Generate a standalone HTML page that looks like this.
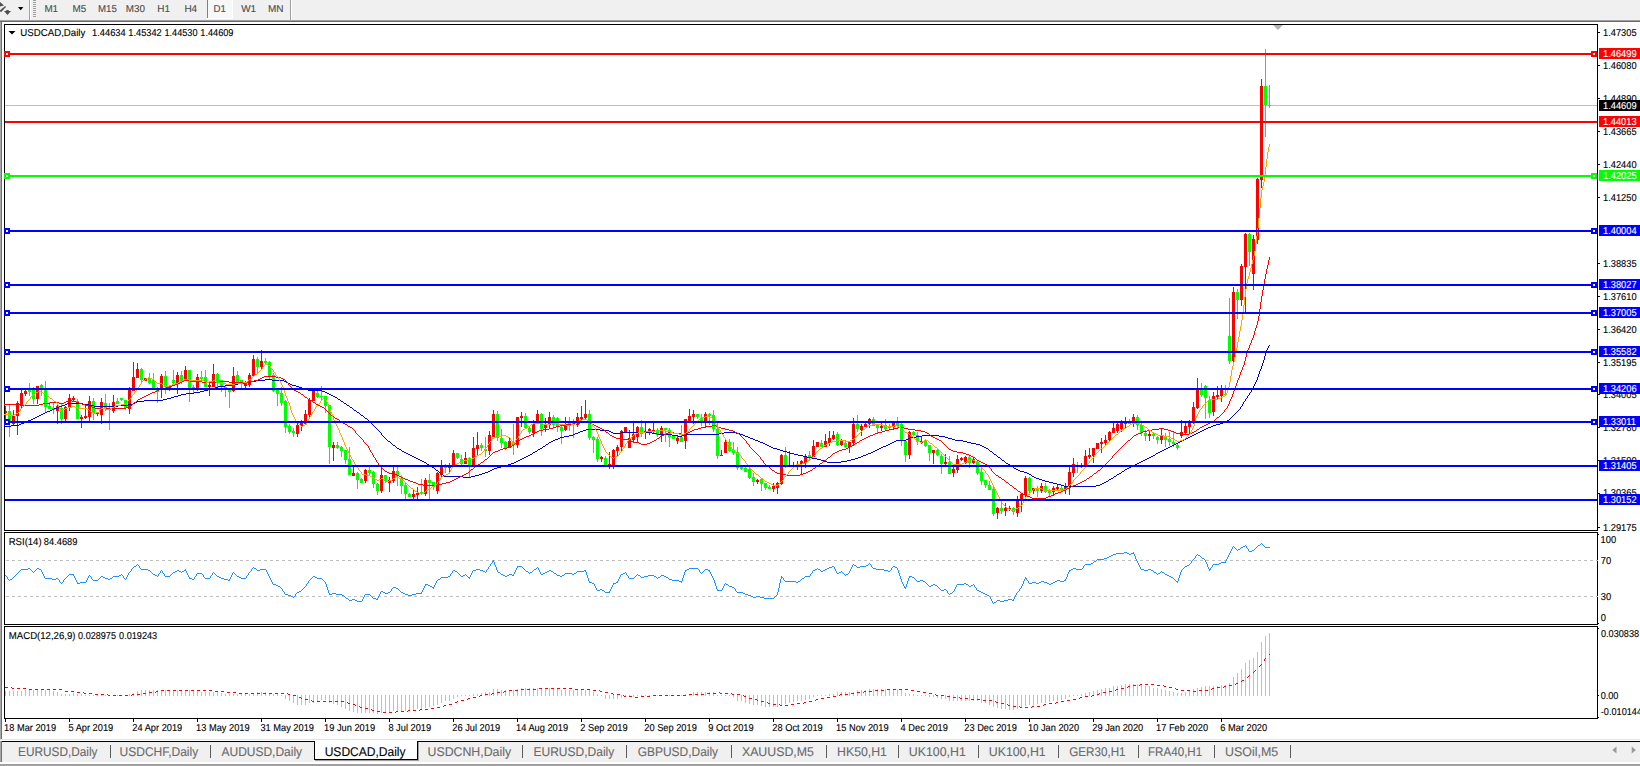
<!DOCTYPE html><html><head><meta charset="utf-8"><title>USDCAD,Daily</title>
<style>html,body{margin:0;padding:0;background:#fff;overflow:hidden}body{width:1640px;height:766px;position:relative;font-family:"Liberation Sans",sans-serif}svg{position:absolute;left:0;top:0;display:block}text{font-family:"Liberation Sans",sans-serif}</style></head><body>
<svg width="1640" height="766" viewBox="0 0 1640 766" text-rendering="geometricPrecision">
<rect x="0" y="0" width="1640" height="766" fill="#fff"/>
<g shape-rendering="crispEdges">
<rect x="0" y="0" width="1640" height="20" fill="#f0f0f0"/>
<rect x="0" y="20" width="1640" height="1" fill="#a0a0a0"/>
<rect x="0" y="21" width="1640" height="1" fill="#696969"/>
<rect x="0" y="22" width="1" height="718" fill="#a8a8a8"/><rect x="1" y="22" width="1" height="718" fill="#707070"/>
<rect x="29" y="0" width="1" height="20" fill="#a0a0a0"/><rect x="30" y="0" width="1" height="20" fill="#fff"/>
<rect x="33" y="0" width="3" height="1" fill="#a0a0a0"/>
<rect x="33" y="2" width="3" height="1" fill="#a0a0a0"/>
<rect x="33" y="4" width="3" height="1" fill="#a0a0a0"/>
<rect x="33" y="6" width="3" height="1" fill="#a0a0a0"/>
<rect x="33" y="8" width="3" height="1" fill="#a0a0a0"/>
<rect x="33" y="10" width="3" height="1" fill="#a0a0a0"/>
<rect x="33" y="12" width="3" height="1" fill="#a0a0a0"/>
<rect x="33" y="14" width="3" height="1" fill="#a0a0a0"/>
<rect x="33" y="16" width="3" height="1" fill="#a0a0a0"/>
<rect x="207" y="0" width="1" height="18" fill="#808080"/><rect x="208" y="0" width="24" height="18" fill="#f8f8f8"/><rect x="232" y="0" width="1" height="19" fill="#fff"/><rect x="207" y="18" width="26" height="1" fill="#fff"/>
<rect x="290" y="0" width="1" height="20" fill="#a0a0a0"/><rect x="291" y="0" width="1" height="20" fill="#fff"/>
</g>
<g fill="#505050"><path d="M0 2 L4 5.5 L0 6.5 Z"/><path d="M0 10.2 L5.2 6 L6 7 L1.2 12 L0 11.5Z"/><path d="M4 11 L11 11 L7.5 15 Z"/><rect x="6.3" y="10" width="2.4" height="2"/></g>
<path d="M18 7 L23.4 7 L20.7 10.2 Z" fill="#000"/>
<text transform="translate(44.39,12.0) scale(0.9855,1)" font-size="10" fill="#4c4c4c" stroke="#4c4c4c" stroke-width="0.12">M1</text>
<text transform="translate(72.49,12.0) scale(0.9880,1)" font-size="10" fill="#4c4c4c" stroke="#4c4c4c" stroke-width="0.12">M5</text>
<text transform="translate(98.01,12.0) scale(0.9663,1)" font-size="10" fill="#4c4c4c" stroke="#4c4c4c" stroke-width="0.12">M15</text>
<text transform="translate(125.79,12.0) scale(0.9867,1)" font-size="10" fill="#4c4c4c" stroke="#4c4c4c" stroke-width="0.12">M30</text>
<text transform="translate(157.34,12.0) scale(1.0000,1)" font-size="10" fill="#4c4c4c" stroke="#4c4c4c" stroke-width="0.12">H1</text>
<text transform="translate(184.39,12.0) scale(1.0000,1)" font-size="10" fill="#4c4c4c" stroke="#4c4c4c" stroke-width="0.12">H4</text>
<text transform="translate(213.61,12.0) scale(0.9674,1)" font-size="10" fill="#4c4c4c" stroke="#4c4c4c" stroke-width="0.12">D1</text>
<text transform="translate(241.16,12.0) scale(0.9953,1)" font-size="10" fill="#4c4c4c" stroke="#4c4c4c" stroke-width="0.12">W1</text>
<text transform="translate(268.02,12.0) scale(1.0000,1)" font-size="10" fill="#4c4c4c" stroke="#4c4c4c" stroke-width="0.12">MN</text>
<g shape-rendering="crispEdges" fill="#000">
<rect x="4" y="24" width="1594" height="1"/>
<rect x="4" y="24" width="1" height="695"/>
<rect x="1597" y="24" width="1" height="695"/>
<rect x="4" y="530" width="1594" height="1"/>
<rect x="4" y="531" width="1594" height="1" fill="#fff"/>
<rect x="4" y="532" width="1594" height="1"/>
<rect x="4" y="624" width="1594" height="1"/>
<rect x="4" y="625" width="1594" height="1" fill="#fff"/>
<rect x="4" y="626" width="1594" height="1"/>
<rect x="4" y="718" width="1594" height="1"/>
</g>
<g shape-rendering="crispEdges"><rect x="2" y="531" width="3" height="1" fill="#fff"/><rect x="2" y="625" width="3" height="1" fill="#fff"/></g>
<g shape-rendering="crispEdges" fill="#000">
<rect x="1598" y="32" width="2" height="1"/>
<rect x="1598" y="65" width="2" height="1"/>
<rect x="1598" y="98" width="2" height="1"/>
<rect x="1598" y="131" width="2" height="1"/>
<rect x="1598" y="164" width="2" height="1"/>
<rect x="1598" y="197" width="2" height="1"/>
<rect x="1598" y="263" width="2" height="1"/>
<rect x="1598" y="296" width="2" height="1"/>
<rect x="1598" y="329" width="2" height="1"/>
<rect x="1598" y="362" width="2" height="1"/>
<rect x="1598" y="394" width="2" height="1"/>
<rect x="1598" y="427" width="2" height="1"/>
<rect x="1598" y="460" width="2" height="1"/>
<rect x="1598" y="493" width="2" height="1"/>
<rect x="1598" y="527" width="2" height="1"/>
<rect x="1598" y="534" width="1" height="1"/>
<rect x="1598" y="623" width="1" height="1"/>
<rect x="1598" y="628" width="1" height="1"/>
<rect x="1598" y="695" width="1" height="1"/>
<rect x="1598" y="717" width="1" height="1"/>
</g>
<text transform="translate(1602.99,35.9) scale(0.9300,1)" font-size="10" fill="#000" stroke="#000" stroke-width="0.12">1.47305</text>
<text transform="translate(1602.99,68.9) scale(0.9300,1)" font-size="10" fill="#000" stroke="#000" stroke-width="0.12">1.46080</text>
<text transform="translate(1602.99,101.9) scale(0.9300,1)" font-size="10" fill="#000" stroke="#000" stroke-width="0.12">1.44890</text>
<text transform="translate(1602.99,134.7) scale(0.9300,1)" font-size="10" fill="#000" stroke="#000" stroke-width="0.12">1.43665</text>
<text transform="translate(1602.99,167.9) scale(0.9300,1)" font-size="10" fill="#000" stroke="#000" stroke-width="0.12">1.42440</text>
<text transform="translate(1602.99,200.9) scale(0.9300,1)" font-size="10" fill="#000" stroke="#000" stroke-width="0.12">1.41250</text>
<text transform="translate(1602.99,266.9) scale(0.9300,1)" font-size="10" fill="#000" stroke="#000" stroke-width="0.12">1.38835</text>
<text transform="translate(1602.99,299.7) scale(0.9300,1)" font-size="10" fill="#000" stroke="#000" stroke-width="0.12">1.37610</text>
<text transform="translate(1602.99,333.1) scale(0.9300,1)" font-size="10" fill="#000" stroke="#000" stroke-width="0.12">1.36420</text>
<text transform="translate(1602.99,366.1) scale(0.9300,1)" font-size="10" fill="#000" stroke="#000" stroke-width="0.12">1.35195</text>
<text transform="translate(1602.99,398.1) scale(0.9300,1)" font-size="10" fill="#000" stroke="#000" stroke-width="0.12">1.34005</text>
<text transform="translate(1602.99,430.9) scale(0.9300,1)" font-size="10" fill="#000" stroke="#000" stroke-width="0.12">1.32780</text>
<text transform="translate(1602.99,463.7) scale(0.9300,1)" font-size="10" fill="#000" stroke="#000" stroke-width="0.12">1.31590</text>
<text transform="translate(1602.99,496.4) scale(0.9300,1)" font-size="10" fill="#000" stroke="#000" stroke-width="0.12">1.30365</text>
<text transform="translate(1602.99,530.9) scale(0.9300,1)" font-size="10" fill="#000" stroke="#000" stroke-width="0.12">1.29175</text>
<rect x="5" y="105" width="1592" height="1" fill="#c0c0c0" shape-rendering="crispEdges"/>
<g shape-rendering="crispEdges">
<rect x="5" y="406" width="1" height="14" fill="#ff0000"/><rect x="6" y="411" width="1" height="2" fill="#ff0000"/>
<rect x="9" y="405" width="1" height="32" fill="#00ff00"/>
<rect x="8" y="411" width="3" height="11" fill="#00ff00"/>
<rect x="13" y="410" width="1" height="15" fill="#ff0000"/>
<rect x="12" y="416" width="3" height="8" fill="#ff0000"/>
<rect x="17" y="401" width="1" height="34" fill="#ff0000"/>
<rect x="16" y="403" width="3" height="13" fill="#ff0000"/>
<rect x="21" y="390" width="1" height="18" fill="#ff0000"/>
<rect x="20" y="393" width="3" height="13" fill="#ff0000"/>
<rect x="25" y="390" width="1" height="6" fill="#ff0000"/>
<rect x="24" y="391" width="3" height="3" fill="#ff0000"/>
<rect x="29" y="383" width="1" height="13" fill="#00ff00"/>
<rect x="28" y="390" width="3" height="2" fill="#00ff00"/>
<rect x="33" y="387" width="1" height="17" fill="#00ff00"/>
<rect x="32" y="390" width="3" height="9" fill="#00ff00"/>
<rect x="37" y="386" width="1" height="18" fill="#ff0000"/>
<rect x="36" y="386" width="3" height="13" fill="#ff0000"/>
<rect x="41" y="384" width="1" height="12" fill="#00ff00"/>
<rect x="40" y="385" width="3" height="3" fill="#00ff00"/>
<rect x="45" y="381" width="1" height="31" fill="#00ff00"/>
<rect x="44" y="390" width="3" height="17" fill="#00ff00"/>
<rect x="49" y="402" width="1" height="7" fill="#00ff00"/>
<rect x="48" y="406" width="3" height="3" fill="#00ff00"/>
<rect x="53" y="403" width="1" height="11" fill="#00ff00"/>
<rect x="52" y="408" width="3" height="2" fill="#00ff00"/>
<rect x="57" y="403" width="1" height="21" fill="#ff0000"/>
<rect x="56" y="406" width="3" height="5" fill="#ff0000"/>
<rect x="61" y="404" width="1" height="20" fill="#00ff00"/>
<rect x="60" y="408" width="3" height="11" fill="#00ff00"/>
<rect x="65" y="406" width="1" height="15" fill="#ff0000"/>
<rect x="64" y="407" width="3" height="12" fill="#ff0000"/>
<rect x="69" y="394" width="1" height="17" fill="#ff0000"/>
<rect x="68" y="398" width="3" height="10" fill="#ff0000"/>
<rect x="73" y="396" width="1" height="5" fill="#ff0000"/>
<rect x="72" y="398" width="3" height="2" fill="#ff0000"/>
<rect x="77" y="399" width="1" height="20" fill="#00ff00"/>
<rect x="76" y="401" width="3" height="18" fill="#00ff00"/>
<rect x="81" y="415" width="1" height="13" fill="#ff0000"/>
<rect x="80" y="417" width="3" height="2" fill="#ff0000"/>
<rect x="85" y="405" width="1" height="14" fill="#ff0000"/>
<rect x="84" y="416" width="3" height="2" fill="#ff0000"/>
<rect x="89" y="396" width="1" height="25" fill="#ff0000"/>
<rect x="88" y="401" width="3" height="16" fill="#ff0000"/>
<rect x="93" y="398" width="1" height="22" fill="#00ff00"/>
<rect x="92" y="401" width="3" height="12" fill="#00ff00"/>
<rect x="97" y="412" width="1" height="4" fill="#ff0000"/>
<rect x="96" y="413" width="3" height="1" fill="#ff0000"/>
<rect x="101" y="398" width="1" height="26" fill="#ff0000"/>
<rect x="100" y="402" width="3" height="13" fill="#ff0000"/>
<rect x="105" y="394" width="1" height="17" fill="#00ff00"/>
<rect x="104" y="403" width="3" height="5" fill="#00ff00"/>
<rect x="109" y="403" width="1" height="27" fill="#00ff00"/>
<rect x="108" y="408" width="3" height="2" fill="#00ff00"/>
<rect x="113" y="395" width="1" height="18" fill="#ff0000"/>
<rect x="112" y="402" width="3" height="9" fill="#ff0000"/>
<rect x="117" y="398" width="1" height="6" fill="#00ff00"/>
<rect x="116" y="401" width="3" height="3" fill="#00ff00"/>
<rect x="121" y="398" width="1" height="3" fill="#00ff00"/>
<rect x="120" y="398" width="3" height="2" fill="#00ff00"/>
<rect x="125" y="400" width="1" height="10" fill="#00ff00"/>
<rect x="124" y="400" width="3" height="8" fill="#00ff00"/>
<rect x="129" y="387" width="1" height="27" fill="#ff0000"/>
<rect x="128" y="390" width="3" height="19" fill="#ff0000"/>
<rect x="133" y="362" width="1" height="29" fill="#ff0000"/>
<rect x="132" y="377" width="3" height="14" fill="#ff0000"/>
<rect x="137" y="363" width="1" height="15" fill="#ff0000"/>
<rect x="136" y="369" width="3" height="9" fill="#ff0000"/>
<rect x="141" y="368" width="1" height="14" fill="#00ff00"/>
<rect x="140" y="369" width="3" height="11" fill="#00ff00"/>
<rect x="145" y="378" width="1" height="3" fill="#ff0000"/>
<rect x="144" y="378" width="3" height="3" fill="#ff0000"/>
<rect x="149" y="373" width="1" height="11" fill="#00ff00"/>
<rect x="148" y="378" width="3" height="5" fill="#00ff00"/>
<rect x="153" y="373" width="1" height="15" fill="#00ff00"/>
<rect x="152" y="380" width="3" height="8" fill="#00ff00"/>
<rect x="157" y="387" width="1" height="16" fill="#00ff00"/>
<rect x="156" y="389" width="3" height="3" fill="#00ff00"/>
<rect x="161" y="374" width="1" height="24" fill="#ff0000"/>
<rect x="160" y="376" width="3" height="14" fill="#ff0000"/>
<rect x="165" y="371" width="1" height="23" fill="#00ff00"/>
<rect x="164" y="376" width="3" height="11" fill="#00ff00"/>
<rect x="169" y="387" width="1" height="4" fill="#ff0000"/>
<rect x="168" y="387" width="3" height="3" fill="#ff0000"/>
<rect x="173" y="370" width="1" height="14" fill="#00ff00"/>
<rect x="172" y="380" width="3" height="3" fill="#00ff00"/>
<rect x="177" y="372" width="1" height="22" fill="#ff0000"/>
<rect x="176" y="375" width="3" height="9" fill="#ff0000"/>
<rect x="181" y="371" width="1" height="13" fill="#00ff00"/>
<rect x="180" y="375" width="3" height="6" fill="#00ff00"/>
<rect x="185" y="366" width="1" height="14" fill="#ff0000"/>
<rect x="184" y="370" width="3" height="10" fill="#ff0000"/>
<rect x="189" y="370" width="1" height="32" fill="#00ff00"/>
<rect x="188" y="370" width="3" height="18" fill="#00ff00"/>
<rect x="193" y="385" width="1" height="8" fill="#00ff00"/>
<rect x="192" y="387" width="3" height="1" fill="#00ff00"/>
<rect x="197" y="374" width="1" height="17" fill="#ff0000"/>
<rect x="196" y="377" width="3" height="11" fill="#ff0000"/>
<rect x="201" y="371" width="1" height="9" fill="#00ff00"/>
<rect x="200" y="377" width="3" height="2" fill="#00ff00"/>
<rect x="205" y="370" width="1" height="17" fill="#00ff00"/>
<rect x="204" y="377" width="3" height="10" fill="#00ff00"/>
<rect x="209" y="381" width="1" height="15" fill="#ff0000"/>
<rect x="208" y="385" width="3" height="2" fill="#ff0000"/>
<rect x="213" y="364" width="1" height="23" fill="#ff0000"/>
<rect x="212" y="374" width="3" height="13" fill="#ff0000"/>
<rect x="217" y="373" width="1" height="14" fill="#00ff00"/>
<rect x="216" y="374" width="3" height="9" fill="#00ff00"/>
<rect x="221" y="380" width="1" height="12" fill="#00ff00"/>
<rect x="220" y="380" width="3" height="7" fill="#00ff00"/>
<rect x="225" y="386" width="1" height="11" fill="#00ff00"/>
<rect x="224" y="387" width="3" height="1" fill="#00ff00"/>
<rect x="229" y="390" width="1" height="18" fill="#00ff00"/>
<rect x="228" y="390" width="3" height="2" fill="#00ff00"/>
<rect x="233" y="367" width="1" height="25" fill="#ff0000"/>
<rect x="232" y="376" width="3" height="15" fill="#ff0000"/>
<rect x="237" y="371" width="1" height="11" fill="#00ff00"/>
<rect x="236" y="375" width="3" height="7" fill="#00ff00"/>
<rect x="241" y="380" width="1" height="8" fill="#00ff00"/>
<rect x="240" y="380" width="3" height="3" fill="#00ff00"/>
<rect x="245" y="381" width="1" height="7" fill="#ff0000"/>
<rect x="244" y="383" width="3" height="3" fill="#ff0000"/>
<rect x="249" y="373" width="1" height="14" fill="#ff0000"/>
<rect x="248" y="375" width="3" height="10" fill="#ff0000"/>
<rect x="253" y="355" width="1" height="21" fill="#ff0000"/>
<rect x="252" y="359" width="3" height="17" fill="#ff0000"/>
<rect x="257" y="357" width="1" height="16" fill="#00ff00"/>
<rect x="256" y="359" width="3" height="8" fill="#00ff00"/>
<rect x="261" y="350" width="1" height="19" fill="#ff0000"/>
<rect x="260" y="361" width="3" height="6" fill="#ff0000"/>
<rect x="265" y="358" width="1" height="6" fill="#00ff00"/>
<rect x="264" y="361" width="3" height="2" fill="#00ff00"/>
<rect x="269" y="361" width="1" height="18" fill="#00ff00"/>
<rect x="268" y="362" width="3" height="14" fill="#00ff00"/>
<rect x="273" y="373" width="1" height="19" fill="#00ff00"/>
<rect x="272" y="375" width="3" height="16" fill="#00ff00"/>
<rect x="277" y="388" width="1" height="18" fill="#00ff00"/>
<rect x="276" y="390" width="3" height="4" fill="#00ff00"/>
<rect x="281" y="387" width="1" height="19" fill="#00ff00"/>
<rect x="280" y="393" width="3" height="10" fill="#00ff00"/>
<rect x="285" y="400" width="1" height="33" fill="#00ff00"/>
<rect x="284" y="401" width="3" height="26" fill="#00ff00"/>
<rect x="289" y="424" width="1" height="10" fill="#00ff00"/>
<rect x="288" y="426" width="3" height="6" fill="#00ff00"/>
<rect x="293" y="428" width="1" height="9" fill="#00ff00"/>
<rect x="292" y="431" width="3" height="2" fill="#00ff00"/>
<rect x="297" y="423" width="1" height="14" fill="#ff0000"/>
<rect x="296" y="425" width="3" height="9" fill="#ff0000"/>
<rect x="301" y="420" width="1" height="11" fill="#ff0000"/>
<rect x="300" y="423" width="3" height="3" fill="#ff0000"/>
<rect x="305" y="410" width="1" height="15" fill="#ff0000"/>
<rect x="304" y="414" width="3" height="10" fill="#ff0000"/>
<rect x="309" y="398" width="1" height="20" fill="#ff0000"/>
<rect x="308" y="400" width="3" height="15" fill="#ff0000"/>
<rect x="313" y="389" width="1" height="12" fill="#ff0000"/>
<rect x="312" y="390" width="3" height="11" fill="#ff0000"/>
<rect x="317" y="391" width="1" height="7" fill="#00ff00"/>
<rect x="316" y="393" width="3" height="4" fill="#00ff00"/>
<rect x="321" y="386" width="1" height="14" fill="#00ff00"/>
<rect x="320" y="396" width="3" height="1" fill="#00ff00"/>
<rect x="325" y="396" width="1" height="17" fill="#00ff00"/>
<rect x="324" y="396" width="3" height="10" fill="#00ff00"/>
<rect x="329" y="405" width="1" height="59" fill="#00ff00"/>
<rect x="328" y="405" width="3" height="42" fill="#00ff00"/>
<rect x="333" y="442" width="1" height="19" fill="#ff0000"/>
<rect x="332" y="445" width="3" height="3" fill="#ff0000"/>
<rect x="337" y="442" width="1" height="7" fill="#00ff00"/>
<rect x="336" y="445" width="3" height="3" fill="#00ff00"/>
<rect x="341" y="446" width="1" height="11" fill="#00ff00"/>
<rect x="340" y="447" width="3" height="4" fill="#00ff00"/>
<rect x="345" y="450" width="1" height="14" fill="#00ff00"/>
<rect x="344" y="450" width="3" height="10" fill="#00ff00"/>
<rect x="349" y="447" width="1" height="28" fill="#00ff00"/>
<rect x="348" y="459" width="3" height="16" fill="#00ff00"/>
<rect x="353" y="467" width="1" height="9" fill="#ff0000"/>
<rect x="352" y="473" width="3" height="3" fill="#ff0000"/>
<rect x="357" y="472" width="1" height="17" fill="#00ff00"/>
<rect x="356" y="473" width="3" height="7" fill="#00ff00"/>
<rect x="361" y="478" width="1" height="5" fill="#00ff00"/>
<rect x="360" y="479" width="3" height="4" fill="#00ff00"/>
<rect x="365" y="469" width="1" height="14" fill="#ff0000"/>
<rect x="364" y="470" width="3" height="11" fill="#ff0000"/>
<rect x="369" y="467" width="1" height="8" fill="#00ff00"/>
<rect x="368" y="470" width="3" height="3" fill="#00ff00"/>
<rect x="373" y="471" width="1" height="17" fill="#00ff00"/>
<rect x="372" y="472" width="3" height="12" fill="#00ff00"/>
<rect x="377" y="483" width="1" height="12" fill="#00ff00"/>
<rect x="376" y="484" width="3" height="7" fill="#00ff00"/>
<rect x="381" y="467" width="1" height="26" fill="#ff0000"/>
<rect x="380" y="475" width="3" height="16" fill="#ff0000"/>
<rect x="385" y="475" width="1" height="8" fill="#00ff00"/>
<rect x="384" y="475" width="3" height="6" fill="#00ff00"/>
<rect x="389" y="477" width="1" height="15" fill="#ff0000"/>
<rect x="388" y="480" width="3" height="3" fill="#ff0000"/>
<rect x="393" y="467" width="1" height="16" fill="#ff0000"/>
<rect x="392" y="471" width="3" height="10" fill="#ff0000"/>
<rect x="397" y="467" width="1" height="19" fill="#00ff00"/>
<rect x="396" y="471" width="3" height="5" fill="#00ff00"/>
<rect x="401" y="475" width="1" height="19" fill="#00ff00"/>
<rect x="400" y="478" width="3" height="8" fill="#00ff00"/>
<rect x="405" y="482" width="1" height="17" fill="#00ff00"/>
<rect x="404" y="485" width="3" height="9" fill="#00ff00"/>
<rect x="409" y="493" width="1" height="4" fill="#00ff00"/>
<rect x="408" y="494" width="3" height="3" fill="#00ff00"/>
<rect x="413" y="490" width="1" height="9" fill="#ff0000"/>
<rect x="412" y="494" width="3" height="3" fill="#ff0000"/>
<rect x="417" y="487" width="1" height="12" fill="#ff0000"/>
<rect x="416" y="493" width="3" height="2" fill="#ff0000"/>
<rect x="421" y="479" width="1" height="15" fill="#00ff00"/>
<rect x="420" y="492" width="3" height="2" fill="#00ff00"/>
<rect x="425" y="478" width="1" height="18" fill="#ff0000"/>
<rect x="424" y="480" width="3" height="14" fill="#ff0000"/>
<rect x="429" y="474" width="1" height="25" fill="#00ff00"/>
<rect x="428" y="480" width="3" height="3" fill="#00ff00"/>
<rect x="433" y="482" width="1" height="8" fill="#00ff00"/>
<rect x="432" y="482" width="3" height="5" fill="#00ff00"/>
<rect x="437" y="472" width="1" height="22" fill="#ff0000"/>
<rect x="436" y="473" width="3" height="18" fill="#ff0000"/>
<rect x="441" y="460" width="1" height="17" fill="#ff0000"/>
<rect x="440" y="466" width="3" height="9" fill="#ff0000"/>
<rect x="445" y="464" width="1" height="9" fill="#00ff00"/>
<rect x="444" y="466" width="3" height="2" fill="#00ff00"/>
<rect x="449" y="463" width="1" height="10" fill="#ff0000"/>
<rect x="448" y="466" width="3" height="2" fill="#ff0000"/>
<rect x="453" y="450" width="1" height="15" fill="#ff0000"/>
<rect x="452" y="453" width="3" height="12" fill="#ff0000"/>
<rect x="457" y="453" width="1" height="6" fill="#00ff00"/>
<rect x="456" y="453" width="3" height="5" fill="#00ff00"/>
<rect x="461" y="455" width="1" height="10" fill="#00ff00"/>
<rect x="460" y="459" width="3" height="5" fill="#00ff00"/>
<rect x="465" y="452" width="1" height="12" fill="#ff0000"/>
<rect x="464" y="458" width="3" height="6" fill="#ff0000"/>
<rect x="469" y="457" width="1" height="20" fill="#00ff00"/>
<rect x="468" y="458" width="3" height="7" fill="#00ff00"/>
<rect x="473" y="437" width="1" height="30" fill="#ff0000"/>
<rect x="472" y="448" width="3" height="17" fill="#ff0000"/>
<rect x="477" y="432" width="1" height="24" fill="#ff0000"/>
<rect x="476" y="445" width="3" height="4" fill="#ff0000"/>
<rect x="481" y="443" width="1" height="8" fill="#00ff00"/>
<rect x="480" y="445" width="3" height="3" fill="#00ff00"/>
<rect x="485" y="437" width="1" height="20" fill="#00ff00"/>
<rect x="484" y="449" width="3" height="2" fill="#00ff00"/>
<rect x="489" y="431" width="1" height="24" fill="#ff0000"/>
<rect x="488" y="435" width="3" height="16" fill="#ff0000"/>
<rect x="493" y="410" width="1" height="27" fill="#ff0000"/>
<rect x="492" y="414" width="3" height="23" fill="#ff0000"/>
<rect x="497" y="411" width="1" height="30" fill="#00ff00"/>
<rect x="496" y="414" width="3" height="24" fill="#00ff00"/>
<rect x="501" y="429" width="1" height="19" fill="#00ff00"/>
<rect x="500" y="438" width="3" height="5" fill="#00ff00"/>
<rect x="505" y="441" width="1" height="9" fill="#00ff00"/>
<rect x="504" y="442" width="3" height="6" fill="#00ff00"/>
<rect x="509" y="438" width="1" height="10" fill="#ff0000"/>
<rect x="508" y="441" width="3" height="7" fill="#ff0000"/>
<rect x="513" y="424" width="1" height="31" fill="#00ff00"/>
<rect x="512" y="443" width="3" height="2" fill="#00ff00"/>
<rect x="517" y="417" width="1" height="31" fill="#ff0000"/>
<rect x="516" y="417" width="3" height="28" fill="#ff0000"/>
<rect x="521" y="412" width="1" height="15" fill="#ff0000"/>
<rect x="520" y="416" width="3" height="2" fill="#ff0000"/>
<rect x="525" y="413" width="1" height="15" fill="#00ff00"/>
<rect x="524" y="416" width="3" height="12" fill="#00ff00"/>
<rect x="529" y="427" width="1" height="7" fill="#00ff00"/>
<rect x="528" y="428" width="3" height="4" fill="#00ff00"/>
<rect x="533" y="420" width="1" height="17" fill="#ff0000"/>
<rect x="532" y="424" width="3" height="9" fill="#ff0000"/>
<rect x="537" y="410" width="1" height="12" fill="#ff0000"/>
<rect x="536" y="414" width="3" height="8" fill="#ff0000"/>
<rect x="541" y="413" width="1" height="23" fill="#00ff00"/>
<rect x="540" y="414" width="3" height="15" fill="#00ff00"/>
<rect x="545" y="418" width="1" height="14" fill="#ff0000"/>
<rect x="544" y="425" width="3" height="3" fill="#ff0000"/>
<rect x="549" y="412" width="1" height="17" fill="#ff0000"/>
<rect x="548" y="417" width="3" height="8" fill="#ff0000"/>
<rect x="553" y="415" width="1" height="12" fill="#00ff00"/>
<rect x="552" y="417" width="3" height="8" fill="#00ff00"/>
<rect x="557" y="417" width="1" height="15" fill="#00ff00"/>
<rect x="556" y="418" width="3" height="9" fill="#00ff00"/>
<rect x="561" y="426" width="1" height="18" fill="#00ff00"/>
<rect x="560" y="427" width="3" height="4" fill="#00ff00"/>
<rect x="565" y="417" width="1" height="14" fill="#ff0000"/>
<rect x="564" y="424" width="3" height="6" fill="#ff0000"/>
<rect x="569" y="417" width="1" height="14" fill="#00ff00"/>
<rect x="568" y="423" width="3" height="2" fill="#00ff00"/>
<rect x="573" y="419" width="1" height="19" fill="#00ff00"/>
<rect x="572" y="423" width="3" height="2" fill="#00ff00"/>
<rect x="577" y="413" width="1" height="14" fill="#ff0000"/>
<rect x="576" y="417" width="3" height="8" fill="#ff0000"/>
<rect x="581" y="406" width="1" height="14" fill="#ff0000"/>
<rect x="580" y="417" width="3" height="2" fill="#ff0000"/>
<rect x="585" y="400" width="1" height="19" fill="#ff0000"/>
<rect x="584" y="414" width="3" height="4" fill="#ff0000"/>
<rect x="589" y="410" width="1" height="30" fill="#00ff00"/>
<rect x="588" y="414" width="3" height="24" fill="#00ff00"/>
<rect x="593" y="436" width="1" height="17" fill="#00ff00"/>
<rect x="592" y="437" width="3" height="3" fill="#00ff00"/>
<rect x="597" y="437" width="1" height="25" fill="#00ff00"/>
<rect x="596" y="439" width="3" height="20" fill="#00ff00"/>
<rect x="601" y="456" width="1" height="6" fill="#ff0000"/>
<rect x="600" y="457" width="3" height="2" fill="#ff0000"/>
<rect x="605" y="456" width="1" height="9" fill="#00ff00"/>
<rect x="604" y="458" width="3" height="7" fill="#00ff00"/>
<rect x="609" y="452" width="1" height="17" fill="#ff0000"/>
<rect x="608" y="464" width="3" height="1" fill="#ff0000"/>
<rect x="613" y="449" width="1" height="20" fill="#ff0000"/>
<rect x="612" y="450" width="3" height="15" fill="#ff0000"/>
<rect x="617" y="445" width="1" height="11" fill="#ff0000"/>
<rect x="616" y="447" width="3" height="4" fill="#ff0000"/>
<rect x="621" y="430" width="1" height="21" fill="#ff0000"/>
<rect x="620" y="431" width="3" height="16" fill="#ff0000"/>
<rect x="625" y="427" width="1" height="6" fill="#ff0000"/>
<rect x="624" y="427" width="3" height="5" fill="#ff0000"/>
<rect x="629" y="430" width="1" height="18" fill="#ff0000"/>
<rect x="628" y="438" width="3" height="10" fill="#ff0000"/>
<rect x="633" y="423" width="1" height="19" fill="#ff0000"/>
<rect x="632" y="434" width="3" height="6" fill="#ff0000"/>
<rect x="637" y="426" width="1" height="16" fill="#ff0000"/>
<rect x="636" y="427" width="3" height="10" fill="#ff0000"/>
<rect x="641" y="420" width="1" height="17" fill="#00ff00"/>
<rect x="640" y="427" width="3" height="7" fill="#00ff00"/>
<rect x="645" y="423" width="1" height="16" fill="#ff0000"/>
<rect x="644" y="431" width="3" height="2" fill="#ff0000"/>
<rect x="649" y="428" width="1" height="7" fill="#ff0000"/>
<rect x="648" y="429" width="3" height="3" fill="#ff0000"/>
<rect x="653" y="423" width="1" height="10" fill="#ff0000"/>
<rect x="652" y="430" width="3" height="2" fill="#ff0000"/>
<rect x="657" y="428" width="1" height="9" fill="#00ff00"/>
<rect x="656" y="430" width="3" height="5" fill="#00ff00"/>
<rect x="661" y="426" width="1" height="16" fill="#ff0000"/>
<rect x="660" y="428" width="3" height="7" fill="#ff0000"/>
<rect x="665" y="428" width="1" height="14" fill="#00ff00"/>
<rect x="664" y="428" width="3" height="2" fill="#00ff00"/>
<rect x="669" y="428" width="1" height="19" fill="#00ff00"/>
<rect x="668" y="430" width="3" height="7" fill="#00ff00"/>
<rect x="673" y="435" width="1" height="4" fill="#00ff00"/>
<rect x="672" y="436" width="3" height="3" fill="#00ff00"/>
<rect x="677" y="436" width="1" height="8" fill="#ff0000"/>
<rect x="676" y="438" width="3" height="3" fill="#ff0000"/>
<rect x="681" y="425" width="1" height="17" fill="#00ff00"/>
<rect x="680" y="437" width="3" height="5" fill="#00ff00"/>
<rect x="685" y="419" width="1" height="30" fill="#ff0000"/>
<rect x="684" y="419" width="3" height="22" fill="#ff0000"/>
<rect x="689" y="409" width="1" height="12" fill="#ff0000"/>
<rect x="688" y="416" width="3" height="5" fill="#ff0000"/>
<rect x="693" y="410" width="1" height="14" fill="#ff0000"/>
<rect x="692" y="414" width="3" height="3" fill="#ff0000"/>
<rect x="697" y="414" width="1" height="5" fill="#00ff00"/>
<rect x="696" y="414" width="3" height="3" fill="#00ff00"/>
<rect x="701" y="414" width="1" height="12" fill="#00ff00"/>
<rect x="700" y="418" width="3" height="3" fill="#00ff00"/>
<rect x="705" y="412" width="1" height="16" fill="#ff0000"/>
<rect x="704" y="414" width="3" height="7" fill="#ff0000"/>
<rect x="709" y="413" width="1" height="12" fill="#00ff00"/>
<rect x="708" y="414" width="3" height="2" fill="#00ff00"/>
<rect x="713" y="410" width="1" height="22" fill="#00ff00"/>
<rect x="712" y="415" width="3" height="14" fill="#00ff00"/>
<rect x="717" y="423" width="1" height="36" fill="#00ff00"/>
<rect x="716" y="429" width="3" height="27" fill="#00ff00"/>
<rect x="721" y="450" width="1" height="6" fill="#ff0000"/>
<rect x="720" y="455" width="3" height="1" fill="#ff0000"/>
<rect x="725" y="440" width="1" height="13" fill="#ff0000"/>
<rect x="724" y="442" width="3" height="11" fill="#ff0000"/>
<rect x="729" y="439" width="1" height="13" fill="#00ff00"/>
<rect x="728" y="442" width="3" height="9" fill="#00ff00"/>
<rect x="733" y="442" width="1" height="13" fill="#00ff00"/>
<rect x="732" y="450" width="3" height="3" fill="#00ff00"/>
<rect x="737" y="447" width="1" height="23" fill="#00ff00"/>
<rect x="736" y="452" width="3" height="16" fill="#00ff00"/>
<rect x="741" y="467" width="1" height="3" fill="#00ff00"/>
<rect x="740" y="467" width="3" height="2" fill="#00ff00"/>
<rect x="745" y="467" width="1" height="5" fill="#00ff00"/>
<rect x="744" y="468" width="3" height="4" fill="#00ff00"/>
<rect x="749" y="468" width="1" height="11" fill="#00ff00"/>
<rect x="748" y="469" width="3" height="9" fill="#00ff00"/>
<rect x="753" y="473" width="1" height="13" fill="#00ff00"/>
<rect x="752" y="477" width="3" height="5" fill="#00ff00"/>
<rect x="757" y="479" width="1" height="5" fill="#ff0000"/>
<rect x="756" y="480" width="3" height="2" fill="#ff0000"/>
<rect x="761" y="478" width="1" height="13" fill="#00ff00"/>
<rect x="760" y="479" width="3" height="5" fill="#00ff00"/>
<rect x="765" y="483" width="1" height="7" fill="#00ff00"/>
<rect x="764" y="483" width="3" height="5" fill="#00ff00"/>
<rect x="769" y="485" width="1" height="4" fill="#00ff00"/>
<rect x="768" y="487" width="3" height="2" fill="#00ff00"/>
<rect x="773" y="483" width="1" height="9" fill="#ff0000"/>
<rect x="772" y="486" width="3" height="3" fill="#ff0000"/>
<rect x="777" y="482" width="1" height="12" fill="#ff0000"/>
<rect x="776" y="483" width="3" height="5" fill="#ff0000"/>
<rect x="781" y="454" width="1" height="31" fill="#ff0000"/>
<rect x="780" y="455" width="3" height="29" fill="#ff0000"/>
<rect x="785" y="447" width="1" height="21" fill="#00ff00"/>
<rect x="784" y="455" width="3" height="10" fill="#00ff00"/>
<rect x="789" y="451" width="1" height="15" fill="#ff0000"/>
<rect x="788" y="465" width="3" height="1" fill="#ff0000"/>
<rect x="793" y="462" width="1" height="5" fill="#ff0000"/>
<rect x="792" y="465" width="3" height="1" fill="#ff0000"/>
<rect x="797" y="461" width="1" height="9" fill="#ff0000"/>
<rect x="796" y="465" width="3" height="1" fill="#ff0000"/>
<rect x="801" y="460" width="1" height="15" fill="#ff0000"/>
<rect x="800" y="461" width="3" height="3" fill="#ff0000"/>
<rect x="805" y="454" width="1" height="14" fill="#ff0000"/>
<rect x="804" y="457" width="3" height="6" fill="#ff0000"/>
<rect x="809" y="451" width="1" height="10" fill="#00ff00"/>
<rect x="808" y="455" width="3" height="3" fill="#00ff00"/>
<rect x="813" y="440" width="1" height="17" fill="#ff0000"/>
<rect x="812" y="446" width="3" height="11" fill="#ff0000"/>
<rect x="817" y="442" width="1" height="5" fill="#ff0000"/>
<rect x="816" y="442" width="3" height="5" fill="#ff0000"/>
<rect x="821" y="440" width="1" height="7" fill="#00ff00"/>
<rect x="820" y="443" width="3" height="4" fill="#00ff00"/>
<rect x="825" y="434" width="1" height="13" fill="#ff0000"/>
<rect x="824" y="441" width="3" height="6" fill="#ff0000"/>
<rect x="829" y="431" width="1" height="15" fill="#ff0000"/>
<rect x="828" y="438" width="3" height="5" fill="#ff0000"/>
<rect x="833" y="431" width="1" height="9" fill="#ff0000"/>
<rect x="832" y="435" width="3" height="4" fill="#ff0000"/>
<rect x="837" y="432" width="1" height="14" fill="#00ff00"/>
<rect x="836" y="434" width="3" height="11" fill="#00ff00"/>
<rect x="841" y="439" width="1" height="7" fill="#ff0000"/>
<rect x="840" y="441" width="3" height="4" fill="#ff0000"/>
<rect x="845" y="440" width="1" height="8" fill="#00ff00"/>
<rect x="844" y="443" width="3" height="4" fill="#00ff00"/>
<rect x="849" y="441" width="1" height="12" fill="#ff0000"/>
<rect x="848" y="442" width="3" height="5" fill="#ff0000"/>
<rect x="853" y="418" width="1" height="27" fill="#ff0000"/>
<rect x="852" y="424" width="3" height="19" fill="#ff0000"/>
<rect x="857" y="415" width="1" height="17" fill="#00ff00"/>
<rect x="856" y="424" width="3" height="5" fill="#00ff00"/>
<rect x="861" y="424" width="1" height="12" fill="#ff0000"/>
<rect x="860" y="426" width="3" height="4" fill="#ff0000"/>
<rect x="865" y="423" width="1" height="4" fill="#ff0000"/>
<rect x="864" y="424" width="3" height="3" fill="#ff0000"/>
<rect x="869" y="418" width="1" height="10" fill="#ff0000"/>
<rect x="868" y="419" width="3" height="5" fill="#ff0000"/>
<rect x="873" y="417" width="1" height="9" fill="#00ff00"/>
<rect x="872" y="419" width="3" height="7" fill="#00ff00"/>
<rect x="877" y="425" width="1" height="8" fill="#00ff00"/>
<rect x="876" y="425" width="3" height="3" fill="#00ff00"/>
<rect x="881" y="423" width="1" height="8" fill="#ff0000"/>
<rect x="880" y="426" width="3" height="2" fill="#ff0000"/>
<rect x="885" y="419" width="1" height="11" fill="#00ff00"/>
<rect x="884" y="425" width="3" height="4" fill="#00ff00"/>
<rect x="889" y="424" width="1" height="5" fill="#00ff00"/>
<rect x="888" y="427" width="3" height="1" fill="#00ff00"/>
<rect x="893" y="422" width="1" height="8" fill="#ff0000"/>
<rect x="892" y="423" width="3" height="4" fill="#ff0000"/>
<rect x="897" y="417" width="1" height="11" fill="#00ff00"/>
<rect x="896" y="422" width="3" height="4" fill="#00ff00"/>
<rect x="901" y="422" width="1" height="24" fill="#00ff00"/>
<rect x="900" y="424" width="3" height="17" fill="#00ff00"/>
<rect x="905" y="440" width="1" height="22" fill="#00ff00"/>
<rect x="904" y="441" width="3" height="14" fill="#00ff00"/>
<rect x="909" y="431" width="1" height="28" fill="#ff0000"/>
<rect x="908" y="432" width="3" height="23" fill="#ff0000"/>
<rect x="913" y="431" width="1" height="5" fill="#00ff00"/>
<rect x="912" y="432" width="3" height="3" fill="#00ff00"/>
<rect x="917" y="432" width="1" height="13" fill="#00ff00"/>
<rect x="916" y="435" width="3" height="7" fill="#00ff00"/>
<rect x="921" y="437" width="1" height="7" fill="#ff0000"/>
<rect x="920" y="441" width="3" height="2" fill="#ff0000"/>
<rect x="925" y="439" width="1" height="8" fill="#00ff00"/>
<rect x="924" y="440" width="3" height="6" fill="#00ff00"/>
<rect x="929" y="445" width="1" height="16" fill="#00ff00"/>
<rect x="928" y="445" width="3" height="8" fill="#00ff00"/>
<rect x="933" y="450" width="1" height="14" fill="#ff0000"/>
<rect x="932" y="450" width="3" height="3" fill="#ff0000"/>
<rect x="937" y="448" width="1" height="8" fill="#00ff00"/>
<rect x="936" y="450" width="3" height="5" fill="#00ff00"/>
<rect x="941" y="454" width="1" height="20" fill="#00ff00"/>
<rect x="940" y="456" width="3" height="8" fill="#00ff00"/>
<rect x="945" y="454" width="1" height="11" fill="#ff0000"/>
<rect x="944" y="462" width="3" height="2" fill="#ff0000"/>
<rect x="949" y="456" width="1" height="18" fill="#00ff00"/>
<rect x="948" y="462" width="3" height="12" fill="#00ff00"/>
<rect x="953" y="467" width="1" height="10" fill="#ff0000"/>
<rect x="952" y="469" width="3" height="4" fill="#ff0000"/>
<rect x="957" y="455" width="1" height="18" fill="#ff0000"/>
<rect x="956" y="459" width="3" height="11" fill="#ff0000"/>
<rect x="961" y="457" width="1" height="4" fill="#ff0000"/>
<rect x="960" y="458" width="3" height="2" fill="#ff0000"/>
<rect x="965" y="456" width="1" height="8" fill="#ff0000"/>
<rect x="964" y="457" width="3" height="6" fill="#ff0000"/>
<rect x="969" y="456" width="1" height="12" fill="#00ff00"/>
<rect x="968" y="457" width="3" height="6" fill="#00ff00"/>
<rect x="973" y="458" width="1" height="6" fill="#ff0000"/>
<rect x="972" y="459" width="3" height="4" fill="#ff0000"/>
<rect x="977" y="460" width="1" height="15" fill="#00ff00"/>
<rect x="976" y="462" width="3" height="11" fill="#00ff00"/>
<rect x="981" y="468" width="1" height="17" fill="#00ff00"/>
<rect x="980" y="472" width="3" height="9" fill="#00ff00"/>
<rect x="985" y="480" width="1" height="8" fill="#00ff00"/>
<rect x="984" y="480" width="3" height="5" fill="#00ff00"/>
<rect x="989" y="481" width="1" height="9" fill="#00ff00"/>
<rect x="988" y="485" width="3" height="5" fill="#00ff00"/>
<rect x="993" y="486" width="1" height="30" fill="#00ff00"/>
<rect x="992" y="489" width="3" height="25" fill="#00ff00"/>
<rect x="997" y="507" width="1" height="12" fill="#ff0000"/>
<rect x="996" y="508" width="3" height="5" fill="#ff0000"/>
<rect x="1001" y="502" width="1" height="12" fill="#00ff00"/>
<rect x="1000" y="508" width="3" height="3" fill="#00ff00"/>
<rect x="1005" y="503" width="1" height="13" fill="#ff0000"/>
<rect x="1004" y="508" width="3" height="3" fill="#ff0000"/>
<rect x="1009" y="506" width="1" height="5" fill="#ff0000"/>
<rect x="1008" y="508" width="3" height="1" fill="#ff0000"/>
<rect x="1013" y="507" width="1" height="8" fill="#00ff00"/>
<rect x="1012" y="508" width="3" height="4" fill="#00ff00"/>
<rect x="1017" y="496" width="1" height="21" fill="#ff0000"/>
<rect x="1016" y="501" width="3" height="12" fill="#ff0000"/>
<rect x="1021" y="493" width="1" height="19" fill="#ff0000"/>
<rect x="1020" y="494" width="3" height="7" fill="#ff0000"/>
<rect x="1025" y="476" width="1" height="22" fill="#ff0000"/>
<rect x="1024" y="478" width="3" height="17" fill="#ff0000"/>
<rect x="1029" y="477" width="1" height="18" fill="#00ff00"/>
<rect x="1028" y="478" width="3" height="13" fill="#00ff00"/>
<rect x="1033" y="488" width="1" height="6" fill="#ff0000"/>
<rect x="1032" y="488" width="3" height="3" fill="#ff0000"/>
<rect x="1037" y="486" width="1" height="11" fill="#00ff00"/>
<rect x="1036" y="489" width="3" height="2" fill="#00ff00"/>
<rect x="1041" y="483" width="1" height="10" fill="#ff0000"/>
<rect x="1040" y="486" width="3" height="5" fill="#ff0000"/>
<rect x="1045" y="483" width="1" height="10" fill="#00ff00"/>
<rect x="1044" y="486" width="3" height="6" fill="#00ff00"/>
<rect x="1049" y="489" width="1" height="8" fill="#00ff00"/>
<rect x="1048" y="490" width="3" height="3" fill="#00ff00"/>
<rect x="1053" y="486" width="1" height="10" fill="#ff0000"/>
<rect x="1052" y="488" width="3" height="4" fill="#ff0000"/>
<rect x="1057" y="485" width="1" height="5" fill="#ff0000"/>
<rect x="1056" y="487" width="3" height="2" fill="#ff0000"/>
<rect x="1061" y="486" width="1" height="5" fill="#00ff00"/>
<rect x="1060" y="488" width="3" height="2" fill="#00ff00"/>
<rect x="1065" y="483" width="1" height="11" fill="#ff0000"/>
<rect x="1064" y="487" width="3" height="2" fill="#ff0000"/>
<rect x="1069" y="467" width="1" height="28" fill="#ff0000"/>
<rect x="1068" y="472" width="3" height="15" fill="#ff0000"/>
<rect x="1073" y="458" width="1" height="19" fill="#ff0000"/>
<rect x="1072" y="464" width="3" height="9" fill="#ff0000"/>
<rect x="1077" y="462" width="1" height="11" fill="#00ff00"/>
<rect x="1076" y="466" width="3" height="1" fill="#00ff00"/>
<rect x="1081" y="463" width="1" height="5" fill="#ff0000"/>
<rect x="1080" y="465" width="3" height="2" fill="#ff0000"/>
<rect x="1085" y="450" width="1" height="16" fill="#ff0000"/>
<rect x="1084" y="456" width="3" height="9" fill="#ff0000"/>
<rect x="1089" y="448" width="1" height="11" fill="#ff0000"/>
<rect x="1088" y="455" width="3" height="2" fill="#ff0000"/>
<rect x="1093" y="448" width="1" height="15" fill="#ff0000"/>
<rect x="1092" y="448" width="3" height="8" fill="#ff0000"/>
<rect x="1097" y="443" width="1" height="6" fill="#ff0000"/>
<rect x="1096" y="443" width="3" height="6" fill="#ff0000"/>
<rect x="1101" y="438" width="1" height="15" fill="#ff0000"/>
<rect x="1100" y="442" width="3" height="2" fill="#ff0000"/>
<rect x="1105" y="435" width="1" height="10" fill="#ff0000"/>
<rect x="1104" y="440" width="3" height="3" fill="#ff0000"/>
<rect x="1109" y="431" width="1" height="10" fill="#ff0000"/>
<rect x="1108" y="432" width="3" height="8" fill="#ff0000"/>
<rect x="1113" y="423" width="1" height="10" fill="#ff0000"/>
<rect x="1112" y="428" width="3" height="5" fill="#ff0000"/>
<rect x="1117" y="423" width="1" height="10" fill="#ff0000"/>
<rect x="1116" y="424" width="3" height="7" fill="#ff0000"/>
<rect x="1121" y="420" width="1" height="12" fill="#ff0000"/>
<rect x="1120" y="423" width="3" height="6" fill="#ff0000"/>
<rect x="1125" y="417" width="1" height="12" fill="#ff0000"/>
<rect x="1124" y="422" width="3" height="2" fill="#ff0000"/>
<rect x="1129" y="419" width="1" height="5" fill="#00ff00"/>
<rect x="1128" y="422" width="3" height="2" fill="#00ff00"/>
<rect x="1133" y="414" width="1" height="13" fill="#ff0000"/>
<rect x="1132" y="417" width="3" height="5" fill="#ff0000"/>
<rect x="1137" y="415" width="1" height="15" fill="#00ff00"/>
<rect x="1136" y="417" width="3" height="8" fill="#00ff00"/>
<rect x="1141" y="423" width="1" height="13" fill="#00ff00"/>
<rect x="1140" y="425" width="3" height="8" fill="#00ff00"/>
<rect x="1145" y="430" width="1" height="11" fill="#00ff00"/>
<rect x="1144" y="433" width="3" height="3" fill="#00ff00"/>
<rect x="1149" y="430" width="1" height="11" fill="#ff0000"/>
<rect x="1148" y="434" width="3" height="2" fill="#ff0000"/>
<rect x="1153" y="433" width="1" height="6" fill="#00ff00"/>
<rect x="1152" y="434" width="3" height="2" fill="#00ff00"/>
<rect x="1157" y="436" width="1" height="8" fill="#00ff00"/>
<rect x="1156" y="437" width="3" height="3" fill="#00ff00"/>
<rect x="1161" y="428" width="1" height="16" fill="#ff0000"/>
<rect x="1160" y="436" width="3" height="4" fill="#ff0000"/>
<rect x="1165" y="433" width="1" height="14" fill="#00ff00"/>
<rect x="1164" y="436" width="3" height="4" fill="#00ff00"/>
<rect x="1169" y="432" width="1" height="14" fill="#00ff00"/>
<rect x="1168" y="439" width="3" height="3" fill="#00ff00"/>
<rect x="1173" y="431" width="1" height="16" fill="#00ff00"/>
<rect x="1172" y="442" width="3" height="2" fill="#00ff00"/>
<rect x="1177" y="443" width="1" height="7" fill="#00ff00"/>
<rect x="1176" y="445" width="3" height="3" fill="#00ff00"/>
<rect x="1181" y="420" width="1" height="18" fill="#ff0000"/>
<rect x="1180" y="432" width="3" height="4" fill="#ff0000"/>
<rect x="1185" y="423" width="1" height="12" fill="#ff0000"/>
<rect x="1184" y="426" width="3" height="7" fill="#ff0000"/>
<rect x="1189" y="420" width="1" height="13" fill="#ff0000"/>
<rect x="1188" y="423" width="3" height="4" fill="#ff0000"/>
<rect x="1193" y="402" width="1" height="22" fill="#ff0000"/>
<rect x="1192" y="407" width="3" height="16" fill="#ff0000"/>
<rect x="1197" y="378" width="1" height="31" fill="#ff0000"/>
<rect x="1196" y="388" width="3" height="20" fill="#ff0000"/>
<rect x="1201" y="383" width="1" height="14" fill="#00ff00"/>
<rect x="1200" y="389" width="3" height="6" fill="#00ff00"/>
<rect x="1205" y="385" width="1" height="34" fill="#00ff00"/>
<rect x="1204" y="386" width="3" height="12" fill="#00ff00"/>
<rect x="1209" y="396" width="1" height="22" fill="#00ff00"/>
<rect x="1208" y="400" width="3" height="13" fill="#00ff00"/>
<rect x="1213" y="392" width="1" height="24" fill="#ff0000"/>
<rect x="1212" y="396" width="3" height="16" fill="#ff0000"/>
<rect x="1217" y="386" width="1" height="14" fill="#ff0000"/>
<rect x="1216" y="395" width="3" height="2" fill="#ff0000"/>
<rect x="1221" y="385" width="1" height="17" fill="#ff0000"/>
<rect x="1220" y="388" width="3" height="8" fill="#ff0000"/>
<rect x="1225" y="385" width="1" height="10" fill="#00ff00"/>
<rect x="1224" y="394" width="3" height="1" fill="#00ff00"/>
<rect x="1229" y="298" width="1" height="66" fill="#00ff00"/>
<rect x="1228" y="336" width="3" height="25" fill="#00ff00"/>
<rect x="1233" y="287" width="1" height="75" fill="#ff0000"/>
<rect x="1232" y="292" width="3" height="69" fill="#ff0000"/>
<rect x="1237" y="289" width="1" height="30" fill="#00ff00"/>
<rect x="1236" y="292" width="3" height="8" fill="#00ff00"/>
<rect x="1241" y="264" width="1" height="42" fill="#ff0000"/>
<rect x="1240" y="266" width="3" height="34" fill="#ff0000"/>
<rect x="1245" y="233" width="1" height="79" fill="#ff0000"/>
<rect x="1244" y="234" width="3" height="33" fill="#ff0000"/>
<rect x="1249" y="233" width="1" height="33" fill="#00ff00"/>
<rect x="1248" y="234" width="3" height="18" fill="#00ff00"/>
<rect x="1253" y="235" width="1" height="55" fill="#ff0000"/>
<rect x="1252" y="239" width="3" height="35" fill="#ff0000"/>
<rect x="1257" y="178" width="1" height="66" fill="#ff0000"/>
<rect x="1256" y="179" width="3" height="61" fill="#ff0000"/>
<rect x="1261" y="79" width="1" height="109" fill="#ff0000"/>
<rect x="1260" y="86" width="3" height="94" fill="#ff0000"/>
<rect x="1265" y="49" width="1" height="88" fill="#00ff00"/>
<rect x="1264" y="86" width="3" height="19" fill="#00ff00"/>
<rect x="1269" y="85" width="1" height="23" fill="#00ff00"/>
<rect x="1268" y="105" width="3" height="1" fill="#00ff00"/>
</g>
<path d="M1259.5 371v3M1263.5 360v3M1262.5 363v3M1266.5 350v3M1265.5 353v3M1264.5 356v4M1258.5 374v3M1257.5 377v3M1261.5 366v3M463 477.5h8M1034 477.5h2M1113 477.5h1M387 440.5h1M553 440.5h2M755 440.5h3M896 440.5h10M955 440.5h8M1182 440.5h2M431 466.5h1M501 466.5h3M1011 466.5h2M1131 466.5h2M204 390.5h4M308 390.5h14M1251 390.5h1M381 434.5h1M573 434.5h2M657 434.5h15M686 434.5h33M740 434.5h3M1194 434.5h2M250 381.5h6M284 381.5h2M1256 381.5h1M382 435.5h1M569 435.5h4M672 435.5h6M682 435.5h4M743 435.5h2M922 435.5h17M1192 435.5h2M385 438.5h1M558 438.5h2M750 438.5h3M908 438.5h2M948 438.5h4M1186 438.5h2M444 476.5h19M471 476.5h4M1032 476.5h2M1114 476.5h2M59 406.5h3M94 406.5h24M349 406.5h1M1241 406.5h1M378 430.5h1M583 430.5h3M600 430.5h9M1202 430.5h2M406 453.5h2M532 453.5h1M790 453.5h4M868 453.5h3M993 453.5h1M1156 453.5h2M1064 486.5h32M225 385.5h7M292 385.5h4M1254 385.5h1M410 455.5h2M528 455.5h2M798 455.5h5M863 455.5h3M996 455.5h1M1153 455.5h2M418 459.5h2M520 459.5h2M817 459.5h4M851 459.5h4M1001 459.5h1M1145 459.5h2M420 460.5h2M518 460.5h2M821 460.5h3M847 460.5h4M1002 460.5h2M1143 460.5h2M412 456.5h2M526 456.5h2M803 456.5h4M861 456.5h2M997 456.5h1M1151 456.5h2M1049 482.5h4M1104 482.5h2M62 405.5h3M89 405.5h5M118 405.5h10M347 405.5h2M1242 405.5h1M404 452.5h2M533 452.5h2M787 452.5h3M871 452.5h2M992 452.5h1M1158 452.5h2M391 443.5h1M548 443.5h1M763 443.5h2M890 443.5h2M971 443.5h5M1176 443.5h2M386 439.5h1M555 439.5h3M753 439.5h2M906 439.5h2M952 439.5h3M1184 439.5h2M380 432.5h1M578 432.5h2M611 432.5h2M621 432.5h31M724 432.5h12M1198 432.5h2M393 445.5h2M545 445.5h1M767 445.5h2M886 445.5h2M980 445.5h2M1172 445.5h2M441 474.5h2M479 474.5h3M1029 474.5h2M1117 474.5h2M377 429.5h1M586 429.5h14M1204 429.5h2M265 379.5h7M424 462.5h2M514 462.5h2M827 462.5h14M1005 462.5h1M1139 462.5h2M21 423.5h3M371 423.5h1M1220 423.5h3M390 442.5h1M549 442.5h2M760 442.5h3M892 442.5h2M967 442.5h4M1178 442.5h2M381 433.5h1M575 433.5h3M613 433.5h8M652 433.5h5M719 433.5h5M736 433.5h4M1196 433.5h2M414 457.5h2M524 457.5h2M807 457.5h5M858 457.5h3M998 457.5h2M1149 457.5h2M383 436.5h1M564 436.5h5M678 436.5h4M745 436.5h3M916 436.5h6M939 436.5h6M1190 436.5h2M28 420.5h3M368 420.5h1M1227 420.5h2M427 464.5h2M508 464.5h3M1008 464.5h2M1135 464.5h2M135 402.5h2M343 402.5h1M1243 402.5h1M399 449.5h2M538 449.5h2M777 449.5h3M877 449.5h2M988 449.5h1M1164 449.5h2M47 411.5h3M356 411.5h1M1237 411.5h1M1269 345.5h1M402 451.5h2M535 451.5h2M783 451.5h4M873 451.5h2M990 451.5h2M1160 451.5h2M432 467.5h2M497 467.5h4M1013 467.5h1M1129 467.5h2M397 448.5h2M540 448.5h2M773 448.5h4M879 448.5h2M986 448.5h2M1166 448.5h2M144 400.5h19M340 400.5h1M1245 400.5h1M4 426.5h7M374 426.5h1M1211 426.5h2M434 468.5h1M494 468.5h3M1014 468.5h2M1127 468.5h2M436 470.5h2M490 470.5h2M1018 470.5h2M1124 470.5h1M244 382.5h6M286 382.5h2M1255 382.5h1M211 388.5h4M302 388.5h3M1252 388.5h1M388 441.5h2M551 441.5h2M758 441.5h2M894 441.5h2M963 441.5h4M1180 441.5h2M396 447.5h1M542 447.5h1M771 447.5h2M881 447.5h2M984 447.5h2M1168 447.5h2M416 458.5h2M522 458.5h2M812 458.5h5M855 458.5h3M1000 458.5h1M1147 458.5h2M232 384.5h6M290 384.5h2M1254 384.5h1M19 424.5h2M372 424.5h1M1216 424.5h4M65 404.5h2M83 404.5h6M128 404.5h5M346 404.5h1M1242 404.5h1M200 391.5h4M322 391.5h3M1251 391.5h1M67 403.5h16M133 403.5h2M344 403.5h2M1243 403.5h1M186 393.5h8M327 393.5h2M1249 393.5h1M438 471.5h1M488 471.5h2M1020 471.5h4M1122 471.5h2M401 450.5h1M537 450.5h1M780 450.5h3M875 450.5h2M989 450.5h1M1162 450.5h2M218 386.5h7M296 386.5h3M1253 386.5h1M384 437.5h1M560 437.5h4M748 437.5h2M910 437.5h6M945 437.5h3M1188 437.5h2M208 389.5h3M305 389.5h3M1252 389.5h1M1039 479.5h3M1109 479.5h2M379 431.5h1M580 431.5h3M609 431.5h2M1200 431.5h2M11 425.5h8M373 425.5h1M1213 425.5h3M194 392.5h6M325 392.5h2M1250 392.5h1M163 399.5h4M338 399.5h2M1245 399.5h1M57 407.5h2M350 407.5h2M1240 407.5h1M256 380.5h9M272 380.5h12M1256 380.5h1M426 463.5h1M511 463.5h3M1006 463.5h2M1137 463.5h2M435 469.5h1M492 469.5h2M1016 469.5h2M1125 469.5h2M1061 485.5h3M1096 485.5h4M376 428.5h1M1206 428.5h2M24 422.5h2M370 422.5h1M1223 422.5h2M429 465.5h2M504 465.5h4M1010 465.5h1M1133 465.5h2M422 461.5h2M516 461.5h2M824 461.5h3M841 461.5h6M1004 461.5h1M1141 461.5h2M395 446.5h1M543 446.5h2M769 446.5h2M883 446.5h3M982 446.5h2M1170 446.5h2M174 396.5h4M333 396.5h2M1247 396.5h1M1260 370.5h1M50 410.5h2M354 410.5h2M1238 410.5h1M1045 481.5h4M1106 481.5h2M439 472.5h1M485 472.5h3M1024 472.5h3M1121 472.5h1M45 412.5h2M357 412.5h2M1236 412.5h1M171 397.5h3M335 397.5h2M1247 397.5h1M408 454.5h2M530 454.5h2M794 454.5h4M866 454.5h2M994 454.5h2M1155 454.5h1M137 401.5h7M341 401.5h2M1244 401.5h1M443 475.5h1M475 475.5h4M1031 475.5h1M1116 475.5h1M392 444.5h1M546 444.5h2M765 444.5h2M888 444.5h2M976 444.5h4M1174 444.5h2M54 408.5h3M352 408.5h1M1240 408.5h1M375 427.5h1M1208 427.5h3M26 421.5h2M369 421.5h1M1225 421.5h2M1042 480.5h3M1108 480.5h1M440 473.5h1M482 473.5h3M1027 473.5h2M1119 473.5h2M181 394.5h5M329 394.5h2M1249 394.5h1M43 413.5h2M359 413.5h1M1235 413.5h1M33 418.5h2M365 418.5h2M1230 418.5h1M238 383.5h6M288 383.5h2M1255 383.5h1M39 415.5h2M361 415.5h2M1233 415.5h1M35 417.5h2M364 417.5h1M1231 417.5h1M1057 484.5h4M1100 484.5h2M178 395.5h3M331 395.5h2M1248 395.5h1M41 414.5h2M360 414.5h1M1234 414.5h1M1268 346.5h1M215 387.5h3M299 387.5h3M1253 387.5h1M52 409.5h2M353 409.5h1M1239 409.5h1M31 419.5h2M367 419.5h1M1229 419.5h1M1036 478.5h3M1111 478.5h2M37 416.5h2M363 416.5h1M1232 416.5h1M167 398.5h4M337 398.5h1M1246 398.5h1M1268 347.5h1M1267 349.5h1M1053 483.5h4M1102 483.5h2M1267 348.5h1M1260 369.5h1" fill="none" stroke="#0000cd" stroke-width="1" shape-rendering="crispEdges"/>
<path d="M1265.5 274v5M1259.5 309v7M1269.5 257v3M1251.5 340v3M1229.5 401v3M1268.5 260v5M1242.5 367v3M1262.5 290v6M1267.5 265v4M1254.5 331v4M1253.5 335v3M1266.5 269v5M1239.5 375v3M1244.5 361v4M1260.5 302v7M1256.5 325v3M1247.5 350v3M1263.5 285v5M1232.5 394v3M1234.5 388v3M1258.5 316v5M1261.5 296v6M1264.5 279v6M1255.5 328v3M1246.5 353v4M1233.5 391v3M1237.5 380v3M1245.5 357v4M1249.5 345v3M1257.5 321v4M1236.5 383v3M1240.5 372v3M366 444.5h1M514 444.5h1M641 444.5h6M748 444.5h1M854 444.5h1M944 444.5h1M1124 444.5h1M369 449.5h1M500 449.5h3M752 449.5h1M842 449.5h4M949 449.5h2M1119 449.5h1M367 445.5h1M512 445.5h2M749 445.5h1M852 445.5h2M945 445.5h1M1123 445.5h1M355 432.5h1M535 432.5h2M606 432.5h2M668 432.5h6M688 432.5h2M735 432.5h2M878 432.5h4M925 432.5h2M1141 432.5h2M1174 432.5h2M1192 432.5h2M389 473.5h6M466 473.5h2M777 473.5h4M803 473.5h3M994 473.5h1M1094 473.5h2M384 470.5h1M470 470.5h1M772 470.5h2M810 470.5h2M991 470.5h1M1098 470.5h2M142 397.5h2M305 397.5h2M1231 397.5h1M182 381.5h2M190 381.5h12M216 381.5h13M249 381.5h5M286 381.5h1M352 428.5h1M549 428.5h4M600 428.5h2M698 428.5h3M721 428.5h4M893 428.5h5M904 428.5h4M1159 428.5h5M1199 428.5h1M358 435.5h1M529 435.5h2M610 435.5h2M662 435.5h2M740 435.5h1M870 435.5h3M930 435.5h1M1134 435.5h2M408 480.5h2M452 480.5h2M1004 480.5h1M1084 480.5h2M397 475.5h2M462 475.5h2M786 475.5h14M996 475.5h2M1092 475.5h1M4 404.5h17M39 404.5h4M82 404.5h3M132 404.5h1M316 404.5h2M1228 404.5h1M1032 498.5h14M413 482.5h3M446 482.5h4M1006 482.5h2M1080 482.5h2M95 408.5h31M324 408.5h1M1226 408.5h1M140 398.5h2M307 398.5h1M1231 398.5h1M50 402.5h9M64 402.5h2M76 402.5h3M134 402.5h2M313 402.5h2M387 472.5h2M468 472.5h1M775 472.5h2M806 472.5h2M993 472.5h1M1096 472.5h1M353 429.5h1M543 429.5h6M602 429.5h2M694 429.5h4M725 429.5h4M889 429.5h4M908 429.5h7M1152 429.5h7M1164 429.5h4M1197 429.5h2M375 458.5h1M487 458.5h1M760 458.5h1M827 458.5h1M975 458.5h1M1111 458.5h1M377 462.5h1M481 462.5h2M763 462.5h1M822 462.5h1M981 462.5h2M1107 462.5h1M372 454.5h1M491 454.5h1M757 454.5h1M832 454.5h1M966 454.5h3M1114 454.5h1M172 385.5h3M289 385.5h1M373 455.5h1M490 455.5h1M758 455.5h1M831 455.5h1M969 455.5h2M1113 455.5h1M361 438.5h1M522 438.5h2M616 438.5h4M657 438.5h2M743 438.5h1M864 438.5h2M935 438.5h2M1131 438.5h1M88 406.5h4M128 406.5h2M320 406.5h2M1227 406.5h1M347 425.5h1M560 425.5h6M594 425.5h2M712 425.5h4M1204 425.5h2M356 433.5h1M533 433.5h2M608 433.5h1M666 433.5h2M674 433.5h7M686 433.5h2M737 433.5h2M875 433.5h3M927 433.5h2M1138 433.5h3M1176 433.5h6M1189 433.5h3M334 417.5h1M1217 417.5h2M368 447.5h1M507 447.5h3M750 447.5h1M848 447.5h2M947 447.5h1M1121 447.5h1M355 431.5h1M537 431.5h2M605 431.5h1M690 431.5h2M733 431.5h2M882 431.5h3M921 431.5h4M1143 431.5h4M1171 431.5h3M1194 431.5h2M362 439.5h1M520 439.5h2M620 439.5h9M656 439.5h1M744 439.5h1M862 439.5h2M937 439.5h2M1130 439.5h1M43 403.5h7M59 403.5h5M79 403.5h3M133 403.5h1M315 403.5h1M369 448.5h1M503 448.5h4M751 448.5h1M846 448.5h2M948 448.5h1M1120 448.5h1M380 466.5h1M475 466.5h1M767 466.5h2M816 466.5h1M988 466.5h1M1103 466.5h1M340 421.5h2M1212 421.5h2M359 436.5h1M526 436.5h3M612 436.5h2M660 436.5h2M741 436.5h1M868 436.5h2M931 436.5h2M1133 436.5h1M399 476.5h2M460 476.5h2M998 476.5h1M1090 476.5h2M370 450.5h1M498 450.5h2M753 450.5h1M839 450.5h3M951 450.5h2M1118 450.5h1M360 437.5h1M524 437.5h2M614 437.5h2M659 437.5h1M742 437.5h1M866 437.5h2M933 437.5h2M1132 437.5h1M146 395.5h2M303 395.5h1M395 474.5h2M464 474.5h2M781 474.5h5M800 474.5h3M995 474.5h1M1093 474.5h1M1025 495.5h2M1051 495.5h2M184 380.5h6M254 380.5h4M285 380.5h1M329 413.5h1M1222 413.5h1M371 452.5h1M493 452.5h2M755 452.5h1M835 452.5h2M957 452.5h6M1116 452.5h1M365 443.5h1M515 443.5h1M639 443.5h2M647 443.5h3M747 443.5h1M855 443.5h2M943 443.5h1M1125 443.5h1M66 401.5h2M72 401.5h4M136 401.5h1M312 401.5h1M1012 486.5h1M1071 486.5h2M325 409.5h1M1225 409.5h1M1250 344.5h1M335 418.5h2M1216 418.5h1M180 382.5h2M202 382.5h14M229 382.5h20M287 382.5h1M152 392.5h3M298 392.5h2M363 440.5h1M518 440.5h2M629 440.5h2M654 440.5h2M745 440.5h1M860 440.5h2M939 440.5h2M1128 440.5h2M376 461.5h1M483 461.5h1M763 461.5h1M823 461.5h1M979 461.5h2M1108 461.5h1M354 430.5h1M539 430.5h4M604 430.5h1M692 430.5h2M729 430.5h4M885 430.5h4M915 430.5h6M1147 430.5h5M1168 430.5h3M1196 430.5h1M343 423.5h2M573 423.5h7M590 423.5h2M1208 423.5h2M423 485.5h14M1010 485.5h2M1073 485.5h3M368 446.5h1M510 446.5h2M749 446.5h1M850 446.5h2M946 446.5h1M1122 446.5h1M357 434.5h1M531 434.5h2M609 434.5h1M664 434.5h2M681 434.5h5M739 434.5h1M873 434.5h2M929 434.5h1M1136 434.5h2M1182 434.5h7M1241 370.5h1M350 427.5h2M553 427.5h3M598 427.5h2M701 427.5h5M718 427.5h3M898 427.5h6M1200 427.5h2M258 379.5h2M283 379.5h2M1238 379.5h1M348 426.5h2M556 426.5h4M596 426.5h2M706 426.5h6M716 426.5h2M1202 426.5h2M342 422.5h1M580 422.5h10M1210 422.5h2M385 471.5h2M469 471.5h1M774 471.5h1M808 471.5h2M992 471.5h1M1097 471.5h1M159 389.5h3M293 389.5h1M378 464.5h1M478 464.5h2M765 464.5h1M819 464.5h1M985 464.5h2M1105 464.5h1M416 483.5h2M442 483.5h4M1008 483.5h1M1078 483.5h2M370 451.5h1M495 451.5h3M754 451.5h1M837 451.5h2M953 451.5h4M1117 451.5h1M364 442.5h1M516 442.5h1M633 442.5h6M650 442.5h2M746 442.5h1M857 442.5h2M942 442.5h1M1126 442.5h1M345 424.5h2M566 424.5h7M592 424.5h2M1206 424.5h2M262 377.5h2M276 377.5h5M327 411.5h1M1224 411.5h1M381 467.5h1M474 467.5h1M769 467.5h1M815 467.5h1M989 467.5h1M1102 467.5h1M374 457.5h1M488 457.5h1M760 457.5h1M828 457.5h2M973 457.5h2M1112 457.5h1M382 468.5h1M473 468.5h1M770 468.5h1M813 468.5h2M990 468.5h1M1101 468.5h1M376 460.5h1M484 460.5h1M762 460.5h1M824 460.5h2M977 460.5h2M1109 460.5h1M373 456.5h1M489 456.5h1M759 456.5h1M830 456.5h1M971 456.5h2M1112 456.5h1M337 419.5h2M1215 419.5h1M418 484.5h5M437 484.5h5M1009 484.5h1M1076 484.5h2M372 453.5h1M492 453.5h1M756 453.5h1M833 453.5h2M963 453.5h3M1115 453.5h1M157 390.5h2M294 390.5h2M375 459.5h1M485 459.5h2M761 459.5h1M826 459.5h1M976 459.5h1M1110 459.5h1M155 391.5h2M296 391.5h2M166 387.5h3M291 387.5h1M1235 387.5h1M1250 343.5h1M21 405.5h18M85 405.5h3M130 405.5h2M318 405.5h2M1228 405.5h1M1014 488.5h2M1067 488.5h2M68 400.5h4M137 400.5h1M310 400.5h2M1230 400.5h1M162 388.5h4M292 388.5h1M378 463.5h1M480 463.5h1M764 463.5h1M820 463.5h2M983 463.5h2M1106 463.5h1M92 407.5h3M126 407.5h2M322 407.5h2M1227 407.5h1M403 478.5h2M456 478.5h2M1001 478.5h1M1087 478.5h2M264 376.5h12M1013 487.5h1M1069 487.5h2M363 441.5h1M517 441.5h1M631 441.5h2M652 441.5h2M746 441.5h1M859 441.5h1M941 441.5h1M1127 441.5h1M144 396.5h2M304 396.5h1M148 394.5h2M301 394.5h2M339 420.5h1M1214 420.5h1M1018 491.5h2M1061 491.5h2M379 465.5h1M476 465.5h2M766 465.5h1M817 465.5h2M987 465.5h1M1104 465.5h1M1027 496.5h3M1048 496.5h3M328 412.5h1M1223 412.5h1M169 386.5h3M290 386.5h1M1235 386.5h1M150 393.5h2M300 393.5h1M330 414.5h1M1221 414.5h1M138 399.5h2M308 399.5h2M1230 399.5h1M405 479.5h3M454 479.5h2M1002 479.5h2M1086 479.5h1M1021 493.5h2M1055 493.5h3M260 378.5h2M281 378.5h2M1238 378.5h1M1241 371.5h1M331 415.5h1M1220 415.5h1M332 416.5h2M1219 416.5h1M1020 492.5h1M1058 492.5h3M383 469.5h1M471 469.5h2M771 469.5h1M812 469.5h1M991 469.5h1M1100 469.5h1M178 383.5h2M288 383.5h1M1252 338.5h1M401 477.5h2M458 477.5h2M999 477.5h2M1089 477.5h1M1016 489.5h1M1065 489.5h2M410 481.5h3M450 481.5h2M1005 481.5h1M1082 481.5h2M1030 497.5h2M1046 497.5h2M1023 494.5h2M1053 494.5h2M1243 366.5h1M175 384.5h3M288 384.5h1M1252 339.5h1M1243 365.5h1M1248 349.5h1M1017 490.5h1M1063 490.5h2M326 410.5h1M1224 410.5h1M1248 348.5h1" fill="none" stroke="#ff0000" stroke-width="1" shape-rendering="crispEdges"/>
<path d="M1227.5 390v3M1245.5 289v8M1241.5 320v6M330.5 409v3M1231.5 370v6M1263.5 182v4M284.5 390v3M344.5 442v3M1254.5 251v5M1258.5 218v10M1239.5 331v6M1244.5 297v8M1249.5 272v4M1230.5 376v6M1267.5 152v7M1253.5 256v4M1233.5 362v4M1243.5 305v8M1248.5 276v3M342.5 437v3M283.5 387v3M1229.5 382v5M1261.5 190v8M1266.5 159v8M1260.5 198v10M1265.5 167v9M1269.5 144v3M1255.5 243v8M1259.5 208v10M1251.5 264v4M1264.5 176v6M1237.5 342v6M1246.5 283v6M333.5 417v3M291.5 410v3M1194.5 422v4M601.5 441v3M598.5 434v3M1262.5 186v4M1235.5 353v4M1257.5 228v8M332.5 414v3M339.5 430v3M1247.5 279v4M290.5 406v4M1256.5 236v7M1242.5 313v7M285.5 393v3M1232.5 366v4M1252.5 260v4M1238.5 337v5M1250.5 268v4M1236.5 348v5M1240.5 326v5M287.5 398v3M1234.5 357v5M1228.5 387v3M1268.5 147v5M329.5 406v3M1195.5 418v4M289.5 403v3M351 457.5h1M474 457.5h1M611 457.5h2M614 457.5h2M741 457.5h1M812 457.5h1M946 457.5h1M1093 457.5h1M413 489.5h1M428 489.5h1M995 489.5h1M1033 489.5h1M1042 489.5h3M1063 489.5h3M38 391.5h3M135 391.5h1M341 436.5h1M497 436.5h5M506 436.5h2M518 436.5h1M632 436.5h1M723 436.5h1M856 436.5h1M912 436.5h1M1114 436.5h1M1164 436.5h5M1187 436.5h1M360 471.5h1M450 471.5h1M753 471.5h1M789 471.5h1M985 471.5h1M1081 471.5h1M299 424.5h1M305 424.5h2M336 424.5h1M531 424.5h2M543 424.5h7M558 424.5h8M571 424.5h4M592 424.5h1M694 424.5h1M716 424.5h1M872 424.5h11M1130 424.5h2M1140 424.5h2M359 470.5h1M450 470.5h1M752 470.5h1M790 470.5h1M984 470.5h1M1082 470.5h1M296 421.5h1M307 421.5h1M334 421.5h1M579 421.5h1M588 421.5h2M697 421.5h1M714 421.5h1M343 440.5h1M491 440.5h1M511 440.5h1M515 440.5h1M600 440.5h1M628 440.5h1M726 440.5h1M837 440.5h8M850 440.5h2M916 440.5h1M924 440.5h1M926 440.5h2M1110 440.5h1M1175 440.5h2M1180 440.5h3M361 472.5h1M449 472.5h1M754 472.5h1M788 472.5h1M985 472.5h1M1080 472.5h1M341 435.5h1M502 435.5h4M519 435.5h1M633 435.5h1M723 435.5h1M857 435.5h1M910 435.5h2M1115 435.5h1M1158 435.5h6M1188 435.5h1M386 481.5h3M404 481.5h1M438 481.5h1M765 481.5h2M781 481.5h1M991 481.5h1M1073 481.5h1M20 410.5h1M60 410.5h2M89 410.5h1M99 410.5h1M314 410.5h1M1199 410.5h1M20 409.5h1M60 409.5h1M62 409.5h3M87 409.5h2M100 409.5h1M106 409.5h4M314 409.5h1M1200 409.5h1M419 493.5h2M422 493.5h2M997 493.5h1M1029 493.5h1M521 431.5h1M596 431.5h1M646 431.5h13M666 431.5h4M688 431.5h1M720 431.5h1M861 431.5h1M904 431.5h1M1120 431.5h1M1151 431.5h1M1191 431.5h1M417 492.5h2M424 492.5h1M996 492.5h1M1030 492.5h1M352 459.5h1M468 459.5h4M743 459.5h1M810 459.5h1M948 459.5h1M970 459.5h3M1091 459.5h1M301 426.5h2M337 426.5h1M528 426.5h2M593 426.5h1M692 426.5h1M717 426.5h1M867 426.5h1M885 426.5h9M897 426.5h2M1127 426.5h2M1144 426.5h1M1193 426.5h1M370 476.5h2M396 476.5h1M442 476.5h2M759 476.5h1M785 476.5h1M988 476.5h1M1077 476.5h1M338 428.5h1M525 428.5h2M595 428.5h1M690 428.5h1M718 428.5h1M865 428.5h1M901 428.5h1M1124 428.5h2M1147 428.5h1M1192 428.5h1M255 374.5h2M275 374.5h1M293 416.5h1M310 416.5h1M705 416.5h4M1196 416.5h1M492 438.5h2M510 438.5h1M517 438.5h1M599 438.5h1M630 438.5h1M725 438.5h1M854 438.5h1M914 438.5h1M1112 438.5h1M1171 438.5h2M1185 438.5h1M295 419.5h1M308 419.5h1M582 419.5h5M699 419.5h2M712 419.5h1M262 368.5h1M271 368.5h1M300 425.5h1M303 425.5h2M336 425.5h1M530 425.5h1M566 425.5h5M592 425.5h1M693 425.5h1M716 425.5h1M868 425.5h4M883 425.5h2M894 425.5h3M1129 425.5h1M1142 425.5h2M36 392.5h2M41 392.5h2M134 392.5h1M375 479.5h2M379 479.5h2M383 479.5h2M392 479.5h1M401 479.5h1M440 479.5h1M763 479.5h1M783 479.5h1M990 479.5h1M1074 479.5h1M354 463.5h1M457 463.5h2M746 463.5h1M802 463.5h3M952 463.5h1M962 463.5h2M978 463.5h1M1088 463.5h1M521 432.5h1M597 432.5h1M638 432.5h8M670 432.5h3M686 432.5h2M721 432.5h1M860 432.5h1M905 432.5h2M1119 432.5h1M1152 432.5h2M1190 432.5h1M298 423.5h1M306 423.5h1M335 423.5h1M533 423.5h10M550 423.5h8M575 423.5h2M591 423.5h1M695 423.5h1M715 423.5h1M1132 423.5h8M372 477.5h2M395 477.5h1M397 477.5h2M441 477.5h1M760 477.5h1M784 477.5h1M989 477.5h1M1076 477.5h1M489 442.5h1M512 442.5h1M514 442.5h1M627 442.5h1M727 442.5h1M830 442.5h2M920 442.5h2M929 442.5h1M1108 442.5h1M143 380.5h2M154 380.5h1M182 380.5h2M189 380.5h15M213 380.5h3M248 380.5h1M279 380.5h1M24 405.5h1M58 405.5h1M116 405.5h5M317 405.5h1M328 405.5h1M1203 405.5h1M21 408.5h1M59 408.5h1M65 408.5h3M78 408.5h9M101 408.5h5M110 408.5h2M315 408.5h1M1201 408.5h1M340 433.5h1M520 433.5h1M597 433.5h1M636 433.5h2M673 433.5h6M684 433.5h2M721 433.5h1M859 433.5h1M907 433.5h2M1118 433.5h1M1154 433.5h2M1190 433.5h1M408 485.5h1M434 485.5h2M773 485.5h5M993 485.5h1M1069 485.5h1M353 461.5h1M461 461.5h2M745 461.5h1M807 461.5h1M950 461.5h1M966 461.5h2M975 461.5h2M1089 461.5h1M405 482.5h1M437 482.5h1M767 482.5h2M780 482.5h1M991 482.5h1M1072 482.5h1M35 393.5h1M43 393.5h2M134 393.5h1M1226 393.5h1M1009 509.5h2M1014 509.5h2M136 390.5h1M294 418.5h1M309 418.5h1M701 418.5h1M712 418.5h1M374 478.5h1M381 478.5h2M393 478.5h2M399 478.5h2M440 478.5h1M761 478.5h2M783 478.5h1M989 478.5h1M1075 478.5h1M142 381.5h1M155 381.5h1M180 381.5h2M204 381.5h2M209 381.5h4M216 381.5h3M247 381.5h1M280 381.5h1M355 464.5h1M455 464.5h2M747 464.5h1M796 464.5h6M953 464.5h9M979 464.5h1M1087 464.5h1M409 486.5h1M432 486.5h2M993 486.5h1M1068 486.5h1M340 434.5h1M519 434.5h1M634 434.5h2M679 434.5h5M722 434.5h1M858 434.5h1M909 434.5h1M1116 434.5h2M1156 434.5h2M1189 434.5h1M148 377.5h2M252 377.5h1M278 377.5h1M347 450.5h1M484 450.5h1M605 450.5h1M622 450.5h1M733 450.5h1M818 450.5h1M939 450.5h1M1099 450.5h1M348 452.5h1M482 452.5h1M606 452.5h1M620 452.5h1M735 452.5h2M816 452.5h1M941 452.5h1M1097 452.5h1M362 474.5h4M446 474.5h2M756 474.5h2M787 474.5h1M987 474.5h1M1079 474.5h1M414 490.5h1M426 490.5h2M995 490.5h1M1032 490.5h1M1045 490.5h18M366 475.5h4M444 475.5h2M758 475.5h1M786 475.5h1M988 475.5h1M1078 475.5h1M4 414.5h5M14 414.5h2M292 414.5h1M311 414.5h1M1197 414.5h1M349 454.5h1M479 454.5h2M608 454.5h1M619 454.5h1M739 454.5h1M815 454.5h1M943 454.5h1M1095 454.5h1M356 466.5h1M452 466.5h1M748 466.5h1M794 466.5h1M980 466.5h1M1086 466.5h1M141 383.5h1M157 383.5h5M175 383.5h3M221 383.5h5M235 383.5h8M281 383.5h1M139 385.5h1M164 385.5h2M169 385.5h3M282 385.5h1M348 451.5h1M483 451.5h1M605 451.5h1M621 451.5h1M734 451.5h1M817 451.5h1M940 451.5h1M1098 451.5h1M350 456.5h1M475 456.5h2M610 456.5h1M616 456.5h2M741 456.5h1M813 456.5h1M945 456.5h1M1094 456.5h1M411 488.5h2M429 488.5h2M994 488.5h1M1034 488.5h8M1066 488.5h1M22 407.5h1M59 407.5h1M68 407.5h4M75 407.5h3M112 407.5h2M315 407.5h1M1202 407.5h1M140 384.5h1M162 384.5h2M172 384.5h3M226 384.5h9M281 384.5h1M488 444.5h1M602 444.5h1M625 444.5h1M728 444.5h1M826 444.5h2M932 444.5h1M1106 444.5h1M353 460.5h1M463 460.5h5M744 460.5h1M808 460.5h2M949 460.5h1M968 460.5h2M973 460.5h2M1090 460.5h1M30 398.5h1M50 398.5h2M130 398.5h1M323 398.5h1M325 398.5h1M1218 398.5h3M297 422.5h1M307 422.5h1M335 422.5h1M577 422.5h2M590 422.5h1M696 422.5h1M714 422.5h1M16 413.5h2M93 413.5h3M292 413.5h1M312 413.5h1M331 413.5h1M1198 413.5h1M491 439.5h1M510 439.5h1M516 439.5h1M600 439.5h1M629 439.5h1M725 439.5h1M852 439.5h2M915 439.5h1M925 439.5h1M1111 439.5h1M1173 439.5h2M1183 439.5h2M346 447.5h1M486 447.5h1M603 447.5h1M624 447.5h1M731 447.5h1M822 447.5h1M935 447.5h2M1103 447.5h1M27 401.5h1M54 401.5h2M127 401.5h1M288 401.5h1M320 401.5h1M326 401.5h1M1207 401.5h2M137 389.5h1M294 417.5h1M309 417.5h1M702 417.5h3M709 417.5h3M1196 417.5h1M494 437.5h3M508 437.5h2M518 437.5h1M599 437.5h1M631 437.5h1M724 437.5h1M855 437.5h1M913 437.5h1M1113 437.5h1M1169 437.5h2M1186 437.5h1M28 400.5h1M53 400.5h1M128 400.5h1M321 400.5h1M326 400.5h1M1209 400.5h1M23 406.5h1M58 406.5h1M72 406.5h3M114 406.5h2M316 406.5h1M1202 406.5h1M343 441.5h1M490 441.5h1M512 441.5h1M515 441.5h1M627 441.5h1M726 441.5h1M832 441.5h5M845 441.5h5M917 441.5h3M922 441.5h2M928 441.5h1M1109 441.5h1M1177 441.5h3M30 397.5h1M49 397.5h1M131 397.5h1M286 397.5h1M324 397.5h1M1221 397.5h2M337 427.5h1M527 427.5h1M594 427.5h1M691 427.5h1M718 427.5h1M866 427.5h1M899 427.5h2M1126 427.5h1M1145 427.5h2M1193 427.5h1M29 399.5h1M52 399.5h1M129 399.5h1M322 399.5h1M325 399.5h1M1210 399.5h8M264 365.5h1M268 365.5h2M345 445.5h1M487 445.5h1M602 445.5h1M625 445.5h1M729 445.5h1M824 445.5h2M933 445.5h1M1105 445.5h1M377 480.5h2M385 480.5h1M389 480.5h3M402 480.5h2M439 480.5h1M764 480.5h1M782 480.5h1M990 480.5h1M1073 480.5h1M421 494.5h1M997 494.5h1M1028 494.5h1M489 443.5h1M513 443.5h1M626 443.5h1M728 443.5h1M828 443.5h2M930 443.5h2M1107 443.5h1M1001 501.5h1M1023 501.5h1M356 465.5h1M453 465.5h2M748 465.5h1M795 465.5h1M979 465.5h1M1086 465.5h1M1006 507.5h1M1018 507.5h1M351 458.5h1M472 458.5h2M613 458.5h1M742 458.5h1M811 458.5h1M947 458.5h1M1092 458.5h1M141 382.5h1M156 382.5h1M178 382.5h2M206 382.5h3M219 382.5h2M243 382.5h4M280 382.5h1M1003 504.5h1M1022 504.5h1M415 491.5h2M425 491.5h1M996 491.5h1M1031 491.5h1M522 430.5h1M596 430.5h1M659 430.5h7M689 430.5h1M720 430.5h1M862 430.5h1M903 430.5h1M1121 430.5h2M1149 430.5h2M1191 430.5h1M146 378.5h2M150 378.5h2M251 378.5h1M278 378.5h1M350 455.5h1M477 455.5h2M609 455.5h1M618 455.5h1M740 455.5h1M814 455.5h1M944 455.5h1M1094 455.5h1M338 429.5h1M523 429.5h2M595 429.5h1M689 429.5h1M719 429.5h1M863 429.5h2M902 429.5h1M1123 429.5h1M1148 429.5h1M1192 429.5h1M410 487.5h1M431 487.5h1M994 487.5h1M1067 487.5h1M19 411.5h1M90 411.5h1M99 411.5h1M313 411.5h1M1199 411.5h1M406 483.5h1M437 483.5h1M769 483.5h2M779 483.5h1M992 483.5h1M1071 483.5h1M407 484.5h1M436 484.5h1M771 484.5h2M778 484.5h1M992 484.5h1M1070 484.5h1M254 375.5h1M276 375.5h1M345 446.5h1M487 446.5h1M603 446.5h1M624 446.5h1M730 446.5h1M823 446.5h1M934 446.5h1M1104 446.5h1M31 396.5h1M47 396.5h2M131 396.5h1M286 396.5h1M1223 396.5h2M26 402.5h1M56 402.5h1M127 402.5h1M288 402.5h1M320 402.5h1M327 402.5h1M1206 402.5h1M358 469.5h1M451 469.5h1M751 469.5h1M791 469.5h1M983 469.5h1M1083 469.5h1M295 420.5h1M308 420.5h1M334 420.5h1M580 420.5h2M587 420.5h1M698 420.5h1M713 420.5h1M349 453.5h1M481 453.5h1M607 453.5h1M619 453.5h1M737 453.5h2M815 453.5h1M942 453.5h1M1096 453.5h1M9 415.5h5M293 415.5h1M311 415.5h1M1197 415.5h1M1000 500.5h1M1024 500.5h1M25 404.5h1M57 404.5h1M121 404.5h5M318 404.5h1M328 404.5h1M1204 404.5h1M347 449.5h1M485 449.5h1M604 449.5h1M622 449.5h1M732 449.5h1M819 449.5h1M938 449.5h1M1100 449.5h1M33 394.5h2M45 394.5h1M133 394.5h1M1226 394.5h1M361 473.5h1M448 473.5h2M755 473.5h1M788 473.5h1M986 473.5h1M1080 473.5h1M263 366.5h1M270 366.5h1M18 412.5h1M91 412.5h2M96 412.5h3M312 412.5h1M331 412.5h1M1198 412.5h1M139 386.5h1M166 386.5h3M282 386.5h1M999 498.5h1M1025 498.5h1M257 373.5h1M275 373.5h1M1000 499.5h1M1024 499.5h1M261 369.5h1M272 369.5h1M26 403.5h1M57 403.5h1M126 403.5h1M319 403.5h1M327 403.5h1M1205 403.5h1M354 462.5h1M459 462.5h2M745 462.5h1M805 462.5h2M951 462.5h1M964 462.5h2M977 462.5h1M1089 462.5h1M1007 508.5h2M1016 508.5h2M998 496.5h1M1026 496.5h1M998 495.5h1M1027 495.5h1M1001 502.5h1M1023 502.5h1M138 387.5h1M357 467.5h1M452 467.5h1M749 467.5h1M793 467.5h1M981 467.5h1M1085 467.5h1M358 468.5h1M451 468.5h1M750 468.5h1M792 468.5h1M982 468.5h1M1084 468.5h1M32 395.5h1M46 395.5h1M132 395.5h1M1225 395.5h1M999 497.5h1M1025 497.5h1M346 448.5h1M485 448.5h1M604 448.5h1M623 448.5h1M731 448.5h1M820 448.5h2M937 448.5h1M1101 448.5h2M1011 510.5h3M265 364.5h3M260 370.5h1M273 370.5h1M145 379.5h1M152 379.5h2M184 379.5h5M249 379.5h2M279 379.5h1M137 388.5h1M262 367.5h1M270 367.5h1M253 376.5h1M277 376.5h1M1002 503.5h1M1022 503.5h1M1004 505.5h1M1021 505.5h1M258 372.5h1M274 372.5h1M259 371.5h1M273 371.5h1M1005 506.5h1M1019 506.5h2" fill="none" stroke="#ffa500" stroke-width="1" shape-rendering="crispEdges"/>
<g shape-rendering="crispEdges">
<rect x="5" y="53" width="1592" height="2" fill="#ff0000"/>
<rect x="4" y="51" width="6" height="6" fill="#ff0000"/><rect x="6" y="53" width="2" height="2" fill="#fff"/>
<rect x="1591" y="51" width="6" height="6" fill="#ff0000"/><rect x="1593" y="53" width="2" height="2" fill="#fff"/>
<rect x="1599" y="48" width="41" height="11" fill="#ff0000"/>
<rect x="5" y="121" width="1592" height="2" fill="#ff0000"/>
<rect x="1599" y="116" width="41" height="11" fill="#ff0000"/>
<rect x="5" y="175" width="1592" height="2" fill="#00ff00"/>
<rect x="4" y="173" width="6" height="6" fill="#00ff00"/><rect x="6" y="175" width="2" height="2" fill="#fff"/>
<rect x="1591" y="173" width="6" height="6" fill="#00ff00"/><rect x="1593" y="175" width="2" height="2" fill="#fff"/>
<rect x="1599" y="170" width="41" height="11" fill="#00ff00"/>
<rect x="5" y="230" width="1592" height="2" fill="#0000ff"/>
<rect x="4" y="228" width="6" height="6" fill="#0000ff"/><rect x="6" y="230" width="2" height="2" fill="#fff"/>
<rect x="1591" y="228" width="6" height="6" fill="#0000ff"/><rect x="1593" y="230" width="2" height="2" fill="#fff"/>
<rect x="1599" y="225" width="41" height="11" fill="#0000ff"/>
<rect x="5" y="284" width="1592" height="2" fill="#0000ff"/>
<rect x="4" y="282" width="6" height="6" fill="#0000ff"/><rect x="6" y="284" width="2" height="2" fill="#fff"/>
<rect x="1591" y="282" width="6" height="6" fill="#0000ff"/><rect x="1593" y="284" width="2" height="2" fill="#fff"/>
<rect x="1599" y="279" width="41" height="11" fill="#0000ff"/>
<rect x="5" y="312" width="1592" height="2" fill="#0000ff"/>
<rect x="4" y="310" width="6" height="6" fill="#0000ff"/><rect x="6" y="312" width="2" height="2" fill="#fff"/>
<rect x="1591" y="310" width="6" height="6" fill="#0000ff"/><rect x="1593" y="312" width="2" height="2" fill="#fff"/>
<rect x="1599" y="307" width="41" height="11" fill="#0000ff"/>
<rect x="5" y="351" width="1592" height="2" fill="#0000ff"/>
<rect x="4" y="349" width="6" height="6" fill="#0000ff"/><rect x="6" y="351" width="2" height="2" fill="#fff"/>
<rect x="1591" y="349" width="6" height="6" fill="#0000ff"/><rect x="1593" y="351" width="2" height="2" fill="#fff"/>
<rect x="1599" y="346" width="41" height="11" fill="#0000ff"/>
<rect x="5" y="388" width="1592" height="2" fill="#0000ff"/>
<rect x="4" y="386" width="6" height="6" fill="#0000ff"/><rect x="6" y="388" width="2" height="2" fill="#fff"/>
<rect x="1591" y="386" width="6" height="6" fill="#0000ff"/><rect x="1593" y="388" width="2" height="2" fill="#fff"/>
<rect x="1599" y="383" width="41" height="11" fill="#0000ff"/>
<rect x="5" y="421" width="1592" height="2" fill="#0000ff"/>
<rect x="4" y="419" width="6" height="6" fill="#0000ff"/><rect x="6" y="421" width="2" height="2" fill="#fff"/>
<rect x="1591" y="419" width="6" height="6" fill="#0000ff"/><rect x="1593" y="421" width="2" height="2" fill="#fff"/>
<rect x="1599" y="416" width="41" height="11" fill="#0000ff"/>
<rect x="5" y="465" width="1592" height="2" fill="#0000ff"/>
<rect x="1599" y="460" width="41" height="11" fill="#0000ff"/>
<rect x="5" y="499" width="1592" height="2" fill="#0000ff"/>
<rect x="1599" y="494" width="41" height="11" fill="#0000ff"/>
<rect x="1599" y="100" width="41" height="11" fill="#000"/>
</g>
<text transform="translate(1602.99,56.8) scale(0.9300,1)" font-size="10" fill="#fff" stroke="#fff" stroke-width="0.12">1.46499</text>
<text transform="translate(1602.99,124.8) scale(0.9300,1)" font-size="10" fill="#fff" stroke="#fff" stroke-width="0.12">1.44013</text>
<text transform="translate(1602.99,178.8) scale(0.9300,1)" font-size="10" fill="#fff" stroke="#fff" stroke-width="0.12">1.42025</text>
<text transform="translate(1602.99,233.8) scale(0.9300,1)" font-size="10" fill="#fff" stroke="#fff" stroke-width="0.12">1.40004</text>
<text transform="translate(1602.99,287.8) scale(0.9300,1)" font-size="10" fill="#fff" stroke="#fff" stroke-width="0.12">1.38027</text>
<text transform="translate(1602.99,315.8) scale(0.9300,1)" font-size="10" fill="#fff" stroke="#fff" stroke-width="0.12">1.37005</text>
<text transform="translate(1602.99,354.8) scale(0.9300,1)" font-size="10" fill="#fff" stroke="#fff" stroke-width="0.12">1.35582</text>
<text transform="translate(1602.99,391.8) scale(0.9300,1)" font-size="10" fill="#fff" stroke="#fff" stroke-width="0.12">1.34206</text>
<text transform="translate(1602.99,424.8) scale(0.9300,1)" font-size="10" fill="#fff" stroke="#fff" stroke-width="0.12">1.33011</text>
<text transform="translate(1602.99,468.8) scale(0.9300,1)" font-size="10" fill="#fff" stroke="#fff" stroke-width="0.12">1.31405</text>
<text transform="translate(1602.99,502.8) scale(0.9300,1)" font-size="10" fill="#fff" stroke="#fff" stroke-width="0.12">1.30152</text>
<text transform="translate(1602.99,108.8) scale(0.9300,1)" font-size="10" fill="#fff" stroke="#fff" stroke-width="0.12">1.44609</text>
<path d="M1273 25 L1283 25 L1278 30 Z" fill="#b4b4b4"/>
<path d="M8.5 31 L15.5 31 L12 34.5 Z" fill="#000"/>
<text transform="translate(20.35,36) scale(0.9663,1)" font-size="10" fill="#000" stroke="#000" stroke-width="0.12">USDCAD,Daily</text>
<text transform="translate(92.09,36) scale(0.9290,1)" font-size="10" fill="#000" stroke="#000" stroke-width="0.12">1.44634</text>
<text transform="translate(128.29,36) scale(0.9260,1)" font-size="10" fill="#000" stroke="#000" stroke-width="0.12">1.45342</text>
<text transform="translate(164.40,36) scale(0.9173,1)" font-size="10" fill="#000" stroke="#000" stroke-width="0.12">1.44530</text>
<text transform="translate(200.30,36) scale(0.9166,1)" font-size="10" fill="#000" stroke="#000" stroke-width="0.12">1.44609</text>
<g shape-rendering="crispEdges">
<line x1="6" y1="560.5" x2="1598" y2="560.5" stroke="#c0c0c0" stroke-width="1" stroke-dasharray="3 3"/>
<line x1="6" y1="596.5" x2="1598" y2="596.5" stroke="#c0c0c0" stroke-width="1" stroke-dasharray="3 3"/>
</g>
<path d="M906.5 584v3M780.5 579v4M1178.5 578v3M684.5 572v3M899.5 573v3M682.5 578v3M587.5 575v3M1180.5 572v3M898.5 570v3M901.5 579v3M496.5 567v3M327.5 587v3M715.5 583v3M586.5 572v3M778.5 588v4M714.5 580v3M1023.5 581v3M779.5 583v5M908.5 578v3M1067.5 574v3M777.5 592v3M781.5 576v3M1135.5 556v3M1179.5 575v3M900.5 576v3M328.5 590v3M494.5 562v3M907.5 581v3M588.5 578v3M1207.5 564v3M683.5 575v3M716.5 586v3M326.5 584v3M61 583.5h1M77 583.5h3M272 583.5h1M307 583.5h1M325 583.5h1M435 583.5h1M592 583.5h2M613 583.5h3M725 583.5h1M902 583.5h1M926 583.5h1M964 583.5h2M1029 583.5h3M1036 583.5h3M1047 583.5h2M1051 583.5h2M18 572.5h1M33 572.5h1M42 572.5h1M129 572.5h1M151 572.5h1M160 572.5h1M162 572.5h1M173 572.5h2M181 572.5h1M186 572.5h1M213 572.5h1M233 572.5h1M249 572.5h1M267 572.5h1M452 572.5h1M457 572.5h1M472 572.5h1M485 572.5h1M498 572.5h2M514 572.5h1M528 572.5h1M530 572.5h2M540 572.5h1M545 572.5h2M553 572.5h1M576 572.5h1M625 572.5h1M700 572.5h1M702 572.5h1M710 572.5h1M812 572.5h1M836 572.5h1M839 572.5h2M842 572.5h1M849 572.5h1M1068 572.5h1M1154 572.5h2M1160 572.5h1M1162 572.5h2M291 596.5h2M294 596.5h1M344 596.5h1M364 596.5h1M371 596.5h1M378 596.5h1M751 596.5h2M756 596.5h4M775 596.5h1M989 596.5h1M1015 596.5h1M8 579.5h1M10 579.5h2M52 579.5h4M58 579.5h1M64 579.5h1M75 579.5h1M87 579.5h1M92 579.5h1M98 579.5h1M108 579.5h2M125 579.5h1M192 579.5h2M224 579.5h4M229 579.5h1M270 579.5h1M310 579.5h1M322 579.5h1M438 579.5h2M618 579.5h1M669 579.5h3M713 579.5h1M783 579.5h1M801 579.5h1M915 579.5h1M1024 579.5h1M1026 579.5h1M1065 579.5h1M1174 579.5h1M28 568.5h2M37 568.5h2M132 568.5h1M140 568.5h1M252 568.5h1M254 568.5h2M488 568.5h1M516 568.5h1M523 568.5h1M536 568.5h1M538 568.5h1M689 568.5h9M817 568.5h1M827 568.5h2M834 568.5h1M851 568.5h1M873 568.5h3M891 568.5h1M897 568.5h1M1073 568.5h3M1082 568.5h1M1140 568.5h1M1183 568.5h1M1208 568.5h1M1210 568.5h1M285 594.5h3M295 594.5h1M329 594.5h3M336 594.5h6M365 594.5h5M379 594.5h1M405 594.5h3M412 594.5h4M745 594.5h3M949 594.5h1M985 594.5h2M1016 594.5h1M5 575.5h1M15 575.5h1M43 575.5h1M68 575.5h1M73 575.5h1M89 575.5h1M119 575.5h2M122 575.5h1M127 575.5h1M155 575.5h2M158 575.5h1M164 575.5h1M170 575.5h1M188 575.5h1M196 575.5h1M203 575.5h1M211 575.5h1M216 575.5h1M231 575.5h1M236 575.5h1M247 575.5h1M268 575.5h1M450 575.5h1M460 575.5h1M463 575.5h2M466 575.5h1M470 575.5h1M503 575.5h2M507 575.5h2M512 575.5h2M557 575.5h3M562 575.5h2M620 575.5h1M627 575.5h1M636 575.5h1M638 575.5h2M648 575.5h6M661 575.5h3M711 575.5h1M810 575.5h1M845 575.5h1M1167 575.5h2M284 593.5h1M296 593.5h1M329 593.5h1M332 593.5h4M380 593.5h1M385 593.5h3M403 593.5h2M416 593.5h6M743 593.5h2M948 593.5h1M950 593.5h2M983 593.5h2M1016 593.5h1M9 580.5h1M59 580.5h1M63 580.5h1M76 580.5h1M86 580.5h1M93 580.5h5M228 580.5h2M271 580.5h1M309 580.5h1M323 580.5h1M437 580.5h1M618 580.5h1M672 580.5h7M784 580.5h1M800 580.5h1M916 580.5h1M920 580.5h3M1024 580.5h1M1027 580.5h1M1057 580.5h3M1064 580.5h2M1175 580.5h1M21 569.5h7M30 569.5h1M36 569.5h1M39 569.5h2M131 569.5h1M141 569.5h7M185 569.5h1M251 569.5h1M256 569.5h1M260 569.5h6M476 569.5h4M487 569.5h1M516 569.5h1M524 569.5h1M534 569.5h2M538 569.5h1M687 569.5h2M698 569.5h1M705 569.5h3M815 569.5h2M818 569.5h2M825 569.5h2M835 569.5h1M850 569.5h1M876 569.5h8M891 569.5h1M897 569.5h1M1071 569.5h2M1076 569.5h6M1141 569.5h3M1148 569.5h3M1182 569.5h1M1209 569.5h2M6 576.5h1M14 576.5h1M44 576.5h1M67 576.5h1M74 576.5h1M88 576.5h1M90 576.5h1M101 576.5h2M113 576.5h6M123 576.5h1M127 576.5h1M157 576.5h1M165 576.5h5M188 576.5h1M195 576.5h1M203 576.5h1M210 576.5h1M217 576.5h2M231 576.5h1M237 576.5h2M246 576.5h1M269 576.5h1M313 576.5h2M448 576.5h2M461 576.5h2M467 576.5h1M470 576.5h1M505 576.5h2M560 576.5h2M620 576.5h1M628 576.5h1M635 576.5h1M640 576.5h1M644 576.5h4M654 576.5h2M660 576.5h1M664 576.5h2M712 576.5h1M805 576.5h5M909 576.5h3M1169 576.5h2M1109 556.5h2M1195 556.5h1M1200 556.5h1M1228 556.5h1M59 581.5h1M63 581.5h1M76 581.5h1M86 581.5h1M271 581.5h1M308 581.5h1M324 581.5h1M436 581.5h1M589 581.5h1M617 581.5h1M679 581.5h3M785 581.5h11M798 581.5h2M917 581.5h3M923 581.5h2M1028 581.5h1M1041 581.5h3M1055 581.5h2M1060 581.5h4M1176 581.5h2M7 577.5h1M13 577.5h1M44 577.5h1M66 577.5h1M74 577.5h1M88 577.5h1M91 577.5h1M100 577.5h1M103 577.5h2M112 577.5h1M123 577.5h1M126 577.5h1M189 577.5h1M194 577.5h1M204 577.5h1M210 577.5h1M219 577.5h2M230 577.5h1M239 577.5h2M246 577.5h1M269 577.5h1M312 577.5h1M315 577.5h2M441 577.5h7M468 577.5h2M619 577.5h1M628 577.5h1M634 577.5h1M641 577.5h3M656 577.5h1M658 577.5h2M666 577.5h2M712 577.5h1M782 577.5h1M804 577.5h1M909 577.5h1M912 577.5h2M1025 577.5h1M1066 577.5h1M1171 577.5h2M280 587.5h1M304 587.5h1M393 587.5h3M424 587.5h1M432 587.5h2M595 587.5h1M611 587.5h1M723 587.5h1M732 587.5h2M904 587.5h2M938 587.5h1M955 587.5h1M975 587.5h1M1021 587.5h1M16 574.5h1M43 574.5h1M69 574.5h5M121 574.5h1M128 574.5h1M153 574.5h2M158 574.5h1M164 574.5h1M171 574.5h1M187 574.5h1M196 574.5h1M202 574.5h1M212 574.5h1M215 574.5h1M232 574.5h1M235 574.5h1M248 574.5h1M268 574.5h1M450 574.5h1M459 574.5h1M465 574.5h1M471 574.5h1M501 574.5h2M509 574.5h3M513 574.5h1M541 574.5h2M556 574.5h1M564 574.5h1M572 574.5h2M621 574.5h2M626 574.5h1M637 574.5h1M711 574.5h1M810 574.5h1M844 574.5h1M846 574.5h2M1157 574.5h1M1165 574.5h2M348 599.5h1M352 599.5h3M362 599.5h1M376 599.5h2M991 599.5h1M1008 599.5h4M1013 599.5h1M20 570.5h1M31 570.5h1M35 570.5h1M41 570.5h1M131 570.5h1M148 570.5h2M161 570.5h1M177 570.5h2M184 570.5h2M251 570.5h1M257 570.5h3M266 570.5h1M453 570.5h2M473 570.5h3M480 570.5h3M486 570.5h1M497 570.5h1M515 570.5h1M525 570.5h1M533 570.5h1M539 570.5h1M549 570.5h2M584 570.5h2M685 570.5h2M699 570.5h1M704 570.5h1M708 570.5h2M813 570.5h2M820 570.5h1M823 570.5h2M835 570.5h1M850 570.5h1M884 570.5h4M890 570.5h1M1069 570.5h2M1144 570.5h4M1151 570.5h2M1181 570.5h1M1209 570.5h1M288 595.5h3M295 595.5h1M342 595.5h2M364 595.5h1M370 595.5h1M379 595.5h1M408 595.5h4M748 595.5h3M776 595.5h1M987 595.5h2M1015 595.5h1M1097 559.5h7M1136 559.5h1M1193 559.5h1M1204 559.5h1M1226 559.5h1M493 560.5h1M1096 560.5h1M1136 560.5h1M1192 560.5h1M1205 560.5h1M1226 560.5h1M349 600.5h3M355 600.5h2M362 600.5h1M991 600.5h1M997 600.5h3M1004 600.5h4M1012 600.5h2M273 584.5h3M306 584.5h1M425 584.5h3M435 584.5h1M594 584.5h1M613 584.5h1M724 584.5h1M726 584.5h2M903 584.5h1M927 584.5h1M933 584.5h2M957 584.5h7M966 584.5h2M973 584.5h1M1022 584.5h1M1049 584.5h2M1116 553.5h8M1127 553.5h2M1131 553.5h3M1229 553.5h1M282 589.5h1M302 589.5h1M391 589.5h1M398 589.5h1M423 589.5h1M596 589.5h1M600 589.5h2M610 589.5h1M717 589.5h1M722 589.5h1M735 589.5h1M940 589.5h1M944 589.5h2M954 589.5h1M976 589.5h1M1019 589.5h1M284 592.5h1M297 592.5h2M380 592.5h1M383 592.5h2M388 592.5h2M401 592.5h2M421 592.5h1M605 592.5h5M737 592.5h6M947 592.5h1M952 592.5h1M981 592.5h2M1017 592.5h1M7 578.5h1M12 578.5h1M45 578.5h7M56 578.5h2M65 578.5h1M75 578.5h1M87 578.5h1M91 578.5h1M99 578.5h1M105 578.5h3M110 578.5h2M124 578.5h1M126 578.5h1M189 578.5h3M194 578.5h1M205 578.5h5M221 578.5h3M230 578.5h1M241 578.5h5M270 578.5h1M311 578.5h1M317 578.5h5M440 578.5h1M469 578.5h1M619 578.5h1M629 578.5h5M657 578.5h1M668 578.5h1M713 578.5h1M783 578.5h1M802 578.5h2M914 578.5h1M1025 578.5h2M1066 578.5h1M1173 578.5h1M293 597.5h1M345 597.5h1M363 597.5h1M372 597.5h1M378 597.5h1M753 597.5h3M760 597.5h4M774 597.5h1M990 597.5h1M1014 597.5h1M17 573.5h1M42 573.5h1M128 573.5h1M152 573.5h1M159 573.5h1M163 573.5h1M172 573.5h1M187 573.5h1M197 573.5h5M212 573.5h1M214 573.5h1M232 573.5h1M234 573.5h1M248 573.5h1M267 573.5h1M451 573.5h1M458 573.5h1M471 573.5h1M500 573.5h1M514 573.5h1M529 573.5h1M540 573.5h1M543 573.5h2M554 573.5h2M565 573.5h7M574 573.5h2M623 573.5h2M626 573.5h1M701 573.5h1M710 573.5h1M811 573.5h1M837 573.5h2M843 573.5h1M848 573.5h1M1068 573.5h1M1156 573.5h1M1158 573.5h2M1164 573.5h1M278 586.5h2M305 586.5h1M424 586.5h1M430 586.5h2M434 586.5h1M595 586.5h1M612 586.5h1M723 586.5h1M729 586.5h3M904 586.5h1M929 586.5h2M937 586.5h1M956 586.5h1M969 586.5h2M974 586.5h1M1021 586.5h1M136 565.5h1M138 565.5h1M490 565.5h1M495 565.5h1M852 565.5h1M854 565.5h2M866 565.5h2M871 565.5h1M1084 565.5h1M1139 565.5h1M1187 565.5h2M1212 565.5h1M283 591.5h1M299 591.5h2M381 591.5h2M390 591.5h1M400 591.5h1M422 591.5h1M604 591.5h1M609 591.5h1M736 591.5h1M947 591.5h1M953 591.5h1M979 591.5h2M1018 591.5h1M492 562.5h1M1093 562.5h1M1137 562.5h1M1191 562.5h1M1206 562.5h1M1221 562.5h5M60 582.5h1M62 582.5h1M77 582.5h1M80 582.5h6M272 582.5h1M308 582.5h1M325 582.5h1M436 582.5h1M589 582.5h3M616 582.5h2M681 582.5h1M796 582.5h2M902 582.5h1M925 582.5h1M1028 582.5h1M1032 582.5h4M1039 582.5h2M1044 582.5h3M1053 582.5h2M1177 582.5h1M491 563.5h1M869 563.5h1M1091 563.5h2M1138 563.5h1M1190 563.5h1M1206 563.5h1M1219 563.5h2M282 590.5h1M301 590.5h1M391 590.5h1M399 590.5h1M422 590.5h1M597 590.5h3M602 590.5h2M610 590.5h1M717 590.5h5M735 590.5h1M941 590.5h3M946 590.5h1M954 590.5h1M977 590.5h2M1019 590.5h1M19 571.5h1M32 571.5h1M34 571.5h1M41 571.5h1M130 571.5h1M150 571.5h1M160 571.5h1M162 571.5h1M175 571.5h2M179 571.5h2M182 571.5h2M186 571.5h1M250 571.5h1M266 571.5h1M452 571.5h1M455 571.5h2M472 571.5h1M483 571.5h2M486 571.5h1M497 571.5h1M515 571.5h1M526 571.5h2M532 571.5h1M539 571.5h1M547 571.5h2M551 571.5h2M577 571.5h7M585 571.5h1M685 571.5h1M699 571.5h1M703 571.5h1M709 571.5h1M812 571.5h1M821 571.5h2M836 571.5h1M841 571.5h1M849 571.5h1M888 571.5h2M1069 571.5h1M1153 571.5h1M1161 571.5h1M1181 571.5h1M133 567.5h1M139 567.5h1M253 567.5h1M488 567.5h1M517 567.5h1M522 567.5h1M537 567.5h1M829 567.5h3M834 567.5h1M851 567.5h1M857 567.5h3M872 567.5h1M892 567.5h1M895 567.5h2M1083 567.5h1M1140 567.5h1M1184 567.5h1M1208 567.5h1M1211 567.5h1M276 585.5h2M306 585.5h1M425 585.5h1M428 585.5h2M434 585.5h1M594 585.5h1M612 585.5h1M724 585.5h1M728 585.5h1M903 585.5h1M928 585.5h1M931 585.5h2M935 585.5h2M956 585.5h1M968 585.5h1M971 585.5h2M974 585.5h1M1022 585.5h1M992 602.5h1M994 602.5h2M134 566.5h2M139 566.5h1M489 566.5h1M495 566.5h1M517 566.5h5M832 566.5h2M852 566.5h1M856 566.5h1M860 566.5h6M871 566.5h1M893 566.5h2M1083 566.5h1M1139 566.5h1M1185 566.5h2M1212 566.5h1M1230 551.5h1M1249 551.5h3M137 564.5h1M490 564.5h1M853 564.5h1M868 564.5h1M870 564.5h1M1085 564.5h6M1138 564.5h1M1189 564.5h1M1213 564.5h6M281 588.5h1M303 588.5h1M392 588.5h1M396 588.5h2M423 588.5h1M433 588.5h1M596 588.5h1M611 588.5h1M722 588.5h1M734 588.5h1M905 588.5h1M939 588.5h1M955 588.5h1M976 588.5h1M1020 588.5h1M1231 550.5h1M1237 550.5h1M1248 550.5h1M1252 550.5h2M1107 557.5h2M1195 557.5h1M1201 557.5h1M1227 557.5h1M1232 547.5h1M1234 547.5h1M1241 547.5h2M1246 547.5h1M1256 547.5h1M1265 547.5h5M1232 548.5h1M1235 548.5h1M1240 548.5h1M1247 548.5h1M1255 548.5h1M357 601.5h5M992 601.5h1M996 601.5h1M1000 601.5h4M346 598.5h2M363 598.5h1M373 598.5h3M377 598.5h1M764 598.5h10M990 598.5h1M1014 598.5h1M1111 555.5h2M1134 555.5h1M1196 555.5h1M1198 555.5h2M1228 555.5h1M1113 554.5h3M1129 554.5h2M1134 554.5h1M1197 554.5h1M1229 554.5h1M1104 558.5h3M1194 558.5h1M1202 558.5h2M1227 558.5h1M1124 552.5h3M1133 552.5h1M1230 552.5h1M993 603.5h1M1233 546.5h1M1243 546.5h2M1246 546.5h1M1257 546.5h1M1264 546.5h1M492 561.5h2M1094 561.5h2M1137 561.5h1M1191 561.5h1M1205 561.5h1M1225 561.5h1M1231 549.5h1M1236 549.5h1M1238 549.5h2M1248 549.5h1M1254 549.5h1M1245 545.5h1M1258 545.5h2M1263 545.5h1M1261 543.5h1M1260 544.5h1M1262 544.5h1" fill="none" stroke="#1e90ff" stroke-width="1" shape-rendering="crispEdges"/>
<text transform="translate(8.72,545) scale(0.9542,1)" font-size="10" fill="#000" stroke="#000" stroke-width="0.12">RSI(14)</text>
<text transform="translate(43.80,545) scale(0.9308,1)" font-size="10" fill="#000" stroke="#000" stroke-width="0.12">84.4689</text>
<text transform="translate(1600.49,542.9) scale(0.9350,1)" font-size="10" fill="#000" stroke="#000" stroke-width="0.12">100</text>
<text transform="translate(1600.72,564.0) scale(0.9350,1)" font-size="10" fill="#000" stroke="#000" stroke-width="0.12">70</text>
<text transform="translate(1600.84,600.2) scale(0.9350,1)" font-size="10" fill="#000" stroke="#000" stroke-width="0.12">30</text>
<text transform="translate(1600.83,621.2) scale(0.9350,1)" font-size="10" fill="#000" stroke="#000" stroke-width="0.12">0</text>
<g shape-rendering="crispEdges" fill="#c0c0c0">
<rect x="5" y="691" width="1" height="5"/>
<rect x="9" y="691" width="1" height="5"/>
<rect x="13" y="691" width="1" height="5"/>
<rect x="17" y="691" width="1" height="5"/>
<rect x="21" y="691" width="1" height="5"/>
<rect x="25" y="690" width="1" height="6"/>
<rect x="29" y="690" width="1" height="6"/>
<rect x="33" y="690" width="1" height="6"/>
<rect x="37" y="690" width="1" height="6"/>
<rect x="41" y="690" width="1" height="6"/>
<rect x="45" y="690" width="1" height="6"/>
<rect x="49" y="690" width="1" height="6"/>
<rect x="53" y="691" width="1" height="5"/>
<rect x="57" y="692" width="1" height="4"/>
<rect x="61" y="694" width="1" height="2"/>
<rect x="65" y="694" width="1" height="2"/>
<rect x="69" y="694" width="1" height="2"/>
<rect x="73" y="693" width="1" height="3"/>
<rect x="77" y="694" width="1" height="2"/>
<rect x="81" y="694" width="1" height="2"/>
<rect x="85" y="695" width="1" height="1"/>
<rect x="89" y="695" width="1" height="1"/>
<rect x="93" y="695" width="1" height="1"/>
<rect x="97" y="695" width="1" height="1"/>
<rect x="101" y="695" width="1" height="1"/>
<rect x="105" y="695" width="1" height="1"/>
<rect x="109" y="695" width="1" height="1"/>
<rect x="113" y="695" width="1" height="1"/>
<rect x="117" y="695" width="1" height="1"/>
<rect x="121" y="695" width="1" height="1"/>
<rect x="125" y="695" width="1" height="1"/>
<rect x="129" y="694" width="1" height="2"/>
<rect x="133" y="693" width="1" height="3"/>
<rect x="137" y="691" width="1" height="5"/>
<rect x="141" y="690" width="1" height="6"/>
<rect x="145" y="690" width="1" height="6"/>
<rect x="149" y="690" width="1" height="6"/>
<rect x="153" y="690" width="1" height="6"/>
<rect x="157" y="690" width="1" height="6"/>
<rect x="161" y="690" width="1" height="6"/>
<rect x="165" y="690" width="1" height="6"/>
<rect x="169" y="690" width="1" height="6"/>
<rect x="173" y="690" width="1" height="6"/>
<rect x="177" y="690" width="1" height="6"/>
<rect x="181" y="690" width="1" height="6"/>
<rect x="185" y="690" width="1" height="6"/>
<rect x="189" y="690" width="1" height="6"/>
<rect x="193" y="690" width="1" height="6"/>
<rect x="197" y="691" width="1" height="5"/>
<rect x="201" y="692" width="1" height="4"/>
<rect x="205" y="692" width="1" height="4"/>
<rect x="209" y="692" width="1" height="4"/>
<rect x="213" y="692" width="1" height="4"/>
<rect x="217" y="692" width="1" height="4"/>
<rect x="221" y="693" width="1" height="3"/>
<rect x="225" y="694" width="1" height="2"/>
<rect x="229" y="694" width="1" height="2"/>
<rect x="233" y="694" width="1" height="2"/>
<rect x="237" y="694" width="1" height="2"/>
<rect x="241" y="694" width="1" height="2"/>
<rect x="245" y="694" width="1" height="2"/>
<rect x="249" y="694" width="1" height="2"/>
<rect x="253" y="693" width="1" height="3"/>
<rect x="257" y="692" width="1" height="4"/>
<rect x="261" y="692" width="1" height="4"/>
<rect x="265" y="692" width="1" height="4"/>
<rect x="269" y="693" width="1" height="3"/>
<rect x="273" y="694" width="1" height="2"/>
<rect x="277" y="694" width="1" height="2"/>
<rect x="281" y="695" width="1" height="1"/>
<rect x="285" y="695" width="1" height="4"/>
<rect x="289" y="695" width="1" height="6"/>
<rect x="293" y="695" width="1" height="8"/>
<rect x="297" y="695" width="1" height="10"/>
<rect x="301" y="695" width="1" height="10"/>
<rect x="305" y="695" width="1" height="10"/>
<rect x="309" y="695" width="1" height="8"/>
<rect x="313" y="695" width="1" height="8"/>
<rect x="317" y="695" width="1" height="6"/>
<rect x="321" y="695" width="1" height="5"/>
<rect x="325" y="695" width="1" height="5"/>
<rect x="329" y="695" width="1" height="8"/>
<rect x="333" y="695" width="1" height="9"/>
<rect x="337" y="695" width="1" height="10"/>
<rect x="341" y="695" width="1" height="12"/>
<rect x="345" y="695" width="1" height="14"/>
<rect x="349" y="695" width="1" height="16"/>
<rect x="353" y="695" width="1" height="17"/>
<rect x="357" y="695" width="1" height="18"/>
<rect x="361" y="695" width="1" height="18"/>
<rect x="365" y="695" width="1" height="18"/>
<rect x="369" y="695" width="1" height="18"/>
<rect x="373" y="695" width="1" height="18"/>
<rect x="377" y="695" width="1" height="19"/>
<rect x="381" y="695" width="1" height="18"/>
<rect x="385" y="695" width="1" height="18"/>
<rect x="389" y="695" width="1" height="18"/>
<rect x="393" y="695" width="1" height="16"/>
<rect x="397" y="695" width="1" height="16"/>
<rect x="401" y="695" width="1" height="16"/>
<rect x="405" y="695" width="1" height="16"/>
<rect x="409" y="695" width="1" height="16"/>
<rect x="413" y="695" width="1" height="15"/>
<rect x="417" y="695" width="1" height="14"/>
<rect x="421" y="695" width="1" height="14"/>
<rect x="425" y="695" width="1" height="13"/>
<rect x="429" y="695" width="1" height="12"/>
<rect x="433" y="695" width="1" height="11"/>
<rect x="437" y="695" width="1" height="10"/>
<rect x="441" y="695" width="1" height="8"/>
<rect x="445" y="695" width="1" height="6"/>
<rect x="449" y="695" width="1" height="6"/>
<rect x="453" y="695" width="1" height="4"/>
<rect x="457" y="695" width="1" height="2"/>
<rect x="461" y="695" width="1" height="1"/>
<rect x="465" y="695" width="1" height="1"/>
<rect x="469" y="695" width="1" height="1"/>
<rect x="473" y="694" width="1" height="2"/>
<rect x="477" y="694" width="1" height="2"/>
<rect x="481" y="693" width="1" height="3"/>
<rect x="485" y="692" width="1" height="4"/>
<rect x="489" y="692" width="1" height="4"/>
<rect x="493" y="689" width="1" height="7"/>
<rect x="497" y="689" width="1" height="7"/>
<rect x="501" y="690" width="1" height="6"/>
<rect x="505" y="690" width="1" height="6"/>
<rect x="509" y="690" width="1" height="6"/>
<rect x="513" y="690" width="1" height="6"/>
<rect x="517" y="689" width="1" height="7"/>
<rect x="521" y="688" width="1" height="8"/>
<rect x="525" y="688" width="1" height="8"/>
<rect x="529" y="688" width="1" height="8"/>
<rect x="533" y="688" width="1" height="8"/>
<rect x="537" y="688" width="1" height="8"/>
<rect x="541" y="688" width="1" height="8"/>
<rect x="545" y="688" width="1" height="8"/>
<rect x="549" y="688" width="1" height="8"/>
<rect x="553" y="688" width="1" height="8"/>
<rect x="557" y="689" width="1" height="7"/>
<rect x="561" y="690" width="1" height="6"/>
<rect x="565" y="690" width="1" height="6"/>
<rect x="569" y="690" width="1" height="6"/>
<rect x="573" y="690" width="1" height="6"/>
<rect x="577" y="690" width="1" height="6"/>
<rect x="581" y="690" width="1" height="6"/>
<rect x="585" y="690" width="1" height="6"/>
<rect x="589" y="690" width="1" height="6"/>
<rect x="593" y="692" width="1" height="4"/>
<rect x="597" y="694" width="1" height="2"/>
<rect x="601" y="695" width="1" height="1"/>
<rect x="605" y="695" width="1" height="4"/>
<rect x="609" y="695" width="1" height="4"/>
<rect x="613" y="695" width="1" height="4"/>
<rect x="617" y="695" width="1" height="4"/>
<rect x="621" y="695" width="1" height="3"/>
<rect x="625" y="695" width="1" height="2"/>
<rect x="629" y="695" width="1" height="2"/>
<rect x="633" y="695" width="1" height="2"/>
<rect x="637" y="695" width="1" height="1"/>
<rect x="641" y="695" width="1" height="1"/>
<rect x="645" y="695" width="1" height="1"/>
<rect x="649" y="695" width="1" height="1"/>
<rect x="653" y="695" width="1" height="1"/>
<rect x="657" y="695" width="1" height="1"/>
<rect x="661" y="695" width="1" height="1"/>
<rect x="665" y="695" width="1" height="1"/>
<rect x="669" y="695" width="1" height="1"/>
<rect x="673" y="695" width="1" height="1"/>
<rect x="677" y="695" width="1" height="1"/>
<rect x="681" y="695" width="1" height="1"/>
<rect x="685" y="694" width="1" height="2"/>
<rect x="689" y="694" width="1" height="2"/>
<rect x="693" y="692" width="1" height="4"/>
<rect x="697" y="692" width="1" height="4"/>
<rect x="701" y="692" width="1" height="4"/>
<rect x="705" y="692" width="1" height="4"/>
<rect x="709" y="692" width="1" height="4"/>
<rect x="713" y="692" width="1" height="4"/>
<rect x="717" y="695" width="1" height="1"/>
<rect x="721" y="695" width="1" height="1"/>
<rect x="725" y="695" width="1" height="1"/>
<rect x="729" y="695" width="1" height="1"/>
<rect x="733" y="695" width="1" height="2"/>
<rect x="737" y="695" width="1" height="6"/>
<rect x="741" y="695" width="1" height="6"/>
<rect x="745" y="695" width="1" height="8"/>
<rect x="749" y="695" width="1" height="9"/>
<rect x="753" y="695" width="1" height="10"/>
<rect x="757" y="695" width="1" height="10"/>
<rect x="761" y="695" width="1" height="11"/>
<rect x="765" y="695" width="1" height="12"/>
<rect x="769" y="695" width="1" height="12"/>
<rect x="773" y="695" width="1" height="12"/>
<rect x="777" y="695" width="1" height="12"/>
<rect x="781" y="695" width="1" height="10"/>
<rect x="785" y="695" width="1" height="9"/>
<rect x="789" y="695" width="1" height="8"/>
<rect x="793" y="695" width="1" height="7"/>
<rect x="797" y="695" width="1" height="6"/>
<rect x="801" y="695" width="1" height="6"/>
<rect x="805" y="695" width="1" height="5"/>
<rect x="809" y="695" width="1" height="4"/>
<rect x="813" y="695" width="1" height="2"/>
<rect x="817" y="695" width="1" height="1"/>
<rect x="821" y="695" width="1" height="1"/>
<rect x="825" y="695" width="1" height="1"/>
<rect x="829" y="694" width="1" height="2"/>
<rect x="833" y="694" width="1" height="2"/>
<rect x="837" y="692" width="1" height="4"/>
<rect x="841" y="692" width="1" height="4"/>
<rect x="845" y="692" width="1" height="4"/>
<rect x="849" y="692" width="1" height="4"/>
<rect x="853" y="692" width="1" height="4"/>
<rect x="857" y="690" width="1" height="6"/>
<rect x="861" y="690" width="1" height="6"/>
<rect x="865" y="690" width="1" height="6"/>
<rect x="869" y="689" width="1" height="7"/>
<rect x="873" y="689" width="1" height="7"/>
<rect x="877" y="689" width="1" height="7"/>
<rect x="881" y="689" width="1" height="7"/>
<rect x="885" y="689" width="1" height="7"/>
<rect x="889" y="689" width="1" height="7"/>
<rect x="893" y="689" width="1" height="7"/>
<rect x="897" y="689" width="1" height="7"/>
<rect x="901" y="690" width="1" height="6"/>
<rect x="905" y="693" width="1" height="3"/>
<rect x="909" y="694" width="1" height="2"/>
<rect x="913" y="694" width="1" height="2"/>
<rect x="917" y="695" width="1" height="1"/>
<rect x="921" y="695" width="1" height="1"/>
<rect x="925" y="695" width="1" height="1"/>
<rect x="929" y="695" width="1" height="2"/>
<rect x="933" y="695" width="1" height="2"/>
<rect x="937" y="695" width="1" height="3"/>
<rect x="941" y="695" width="1" height="4"/>
<rect x="945" y="695" width="1" height="4"/>
<rect x="949" y="695" width="1" height="6"/>
<rect x="953" y="695" width="1" height="6"/>
<rect x="957" y="695" width="1" height="6"/>
<rect x="961" y="695" width="1" height="6"/>
<rect x="965" y="695" width="1" height="6"/>
<rect x="969" y="695" width="1" height="6"/>
<rect x="973" y="695" width="1" height="6"/>
<rect x="977" y="695" width="1" height="6"/>
<rect x="981" y="695" width="1" height="8"/>
<rect x="985" y="695" width="1" height="8"/>
<rect x="989" y="695" width="1" height="10"/>
<rect x="993" y="695" width="1" height="12"/>
<rect x="997" y="695" width="1" height="13"/>
<rect x="1001" y="695" width="1" height="14"/>
<rect x="1005" y="695" width="1" height="14"/>
<rect x="1009" y="695" width="1" height="15"/>
<rect x="1013" y="695" width="1" height="15"/>
<rect x="1017" y="695" width="1" height="14"/>
<rect x="1021" y="695" width="1" height="13"/>
<rect x="1025" y="695" width="1" height="11"/>
<rect x="1029" y="695" width="1" height="10"/>
<rect x="1033" y="695" width="1" height="10"/>
<rect x="1037" y="695" width="1" height="9"/>
<rect x="1041" y="695" width="1" height="8"/>
<rect x="1045" y="695" width="1" height="8"/>
<rect x="1049" y="695" width="1" height="7"/>
<rect x="1053" y="695" width="1" height="6"/>
<rect x="1057" y="695" width="1" height="6"/>
<rect x="1061" y="695" width="1" height="5"/>
<rect x="1065" y="695" width="1" height="4"/>
<rect x="1069" y="695" width="1" height="2"/>
<rect x="1073" y="695" width="1" height="1"/>
<rect x="1077" y="695" width="1" height="1"/>
<rect x="1081" y="694" width="1" height="2"/>
<rect x="1085" y="693" width="1" height="3"/>
<rect x="1089" y="692" width="1" height="4"/>
<rect x="1093" y="691" width="1" height="5"/>
<rect x="1097" y="690" width="1" height="6"/>
<rect x="1101" y="689" width="1" height="7"/>
<rect x="1105" y="688" width="1" height="8"/>
<rect x="1109" y="688" width="1" height="8"/>
<rect x="1113" y="686" width="1" height="10"/>
<rect x="1117" y="686" width="1" height="10"/>
<rect x="1121" y="685" width="1" height="11"/>
<rect x="1125" y="684" width="1" height="12"/>
<rect x="1129" y="684" width="1" height="12"/>
<rect x="1133" y="684" width="1" height="12"/>
<rect x="1137" y="684" width="1" height="12"/>
<rect x="1141" y="684" width="1" height="12"/>
<rect x="1145" y="686" width="1" height="10"/>
<rect x="1149" y="686" width="1" height="10"/>
<rect x="1153" y="688" width="1" height="8"/>
<rect x="1157" y="688" width="1" height="8"/>
<rect x="1161" y="689" width="1" height="7"/>
<rect x="1165" y="690" width="1" height="6"/>
<rect x="1169" y="691" width="1" height="5"/>
<rect x="1173" y="692" width="1" height="4"/>
<rect x="1177" y="693" width="1" height="3"/>
<rect x="1181" y="693" width="1" height="3"/>
<rect x="1185" y="692" width="1" height="4"/>
<rect x="1189" y="690" width="1" height="6"/>
<rect x="1193" y="689" width="1" height="7"/>
<rect x="1197" y="688" width="1" height="8"/>
<rect x="1201" y="687" width="1" height="9"/>
<rect x="1205" y="686" width="1" height="10"/>
<rect x="1209" y="686" width="1" height="10"/>
<rect x="1213" y="686" width="1" height="10"/>
<rect x="1217" y="686" width="1" height="10"/>
<rect x="1221" y="685" width="1" height="11"/>
<rect x="1225" y="685" width="1" height="11"/>
<rect x="1229" y="683" width="1" height="13"/>
<rect x="1233" y="677" width="1" height="19"/>
<rect x="1237" y="673" width="1" height="23"/>
<rect x="1241" y="669" width="1" height="27"/>
<rect x="1245" y="663" width="1" height="33"/>
<rect x="1249" y="660" width="1" height="36"/>
<rect x="1253" y="658" width="1" height="38"/>
<rect x="1257" y="652" width="1" height="44"/>
<rect x="1261" y="642" width="1" height="54"/>
<rect x="1265" y="636" width="1" height="60"/>
<rect x="1269" y="633" width="1" height="63"/>
</g>
<path d="M108 695.5h2M113 695.5h3M119 695.5h3M125 695.5h3M131 695.5h1M293 695.5h3M480 695.5h2M623 695.5h1M653 695.5h3M659 695.5h3M665 695.5h3M671 695.5h3M677 695.5h3M683 695.5h3M743 695.5h1M839 695.5h1M936 695.5h2M941 695.5h3M1092 695.5h2M312 701.5h2M317 701.5h3M323 701.5h3M329 701.5h3M335 701.5h3M341 701.5h3M457 701.5h1M761 701.5h3M809 701.5h3M995 701.5h1M1061 701.5h3M301 698.5h1M468 698.5h2M749 698.5h3M821 698.5h3M960 698.5h2M965 698.5h3M1079 698.5h1M84 693.5h2M89 693.5h3M143 693.5h3M239 693.5h3M245 693.5h3M251 693.5h3M257 693.5h3M263 693.5h3M269 693.5h3M275 693.5h3M281 693.5h3M287 693.5h1M492 693.5h2M611 693.5h2M707 693.5h3M713 693.5h3M720 693.5h2M725 693.5h3M731 693.5h1M851 693.5h3M929 693.5h3M1099 693.5h1M479 696.5h1M624 696.5h2M629 696.5h3M641 696.5h3M647 696.5h3M744 696.5h2M833 696.5h3M947 696.5h3M1085 696.5h3M1091 696.5h1M161 690.5h3M167 690.5h3M173 690.5h3M179 690.5h3M185 690.5h3M191 690.5h3M197 690.5h3M203 690.5h3M209 690.5h3M509 690.5h3M515 690.5h3M593 690.5h3M599 690.5h1M875 690.5h3M881 690.5h3M911 690.5h3M1115 690.5h1M1181 690.5h3M1187 690.5h3M1199 690.5h3M1205 690.5h3M29 689.5h3M35 689.5h3M41 689.5h3M47 689.5h3M53 689.5h3M59 689.5h3M521 689.5h3M527 689.5h3M533 689.5h3M575 689.5h3M581 689.5h3M587 689.5h3M887 689.5h3M893 689.5h3M899 689.5h3M905 689.5h3M1116 689.5h2M1176 689.5h2M1211 689.5h1M347 702.5h1M455 702.5h2M767 702.5h1M804 702.5h2M996 702.5h2M1056 702.5h2M65 691.5h3M71 691.5h3M156 691.5h2M215 691.5h3M221 691.5h3M504 691.5h2M600 691.5h2M864 691.5h2M869 691.5h3M917 691.5h3M1109 691.5h3M1193 691.5h3M359 706.5h1M443 706.5h1M1013 706.5h3M1019 706.5h1M1032 706.5h2M1037 706.5h3M311 700.5h1M461 700.5h3M757 700.5h1M815 700.5h1M983 700.5h3M989 700.5h3M1067 700.5h3M77 692.5h3M83 692.5h1M149 692.5h3M155 692.5h1M227 692.5h3M233 692.5h3M497 692.5h3M503 692.5h1M605 692.5h3M719 692.5h1M857 692.5h3M863 692.5h1M923 692.5h3M1103 692.5h3M305 699.5h3M467 699.5h1M755 699.5h2M816 699.5h2M971 699.5h3M977 699.5h3M1073 699.5h3M360 707.5h2M437 707.5h3M1020 707.5h2M1025 707.5h3M1031 707.5h1M1133 685.5h3M1139 685.5h1M1157 685.5h3M1163 685.5h1M1229 685.5h3M95 694.5h3M101 694.5h3M107 694.5h1M132 694.5h2M137 694.5h3M288 694.5h2M485 694.5h3M491 694.5h1M613 694.5h1M617 694.5h3M689 694.5h3M695 694.5h3M701 694.5h3M732 694.5h2M737 694.5h3M840 694.5h2M845 694.5h3M935 694.5h1M1097 694.5h2M348 703.5h2M768 703.5h2M797 703.5h3M803 703.5h1M1001 703.5h3M1049 703.5h3M1055 703.5h1M5 687.5h3M11 687.5h1M1127 687.5h1M1169 687.5h3M1217 687.5h3M1223 687.5h1M355 705.5h1M444 705.5h2M780 705.5h2M785 705.5h3M1008 705.5h2M1043 705.5h1M12 688.5h2M17 688.5h3M23 688.5h3M539 688.5h3M545 688.5h3M551 688.5h3M557 688.5h3M563 688.5h3M569 688.5h3M1121 688.5h3M1175 688.5h1M1212 688.5h2M1249 675.5h1M353 704.5h2M449 704.5h3M773 704.5h3M779 704.5h1M791 704.5h3M1007 704.5h1M1044 704.5h2M1253 672.5h1M383 712.5h3M389 712.5h3M395 712.5h1M372 710.5h2M408 710.5h2M413 710.5h3M419 710.5h1M1140 684.5h2M1145 684.5h3M1151 684.5h3M1235 684.5h1M371 709.5h1M420 709.5h2M425 709.5h3M1260 665.5h1M365 708.5h3M431 708.5h3M1264 659.5h1M299 697.5h2M473 697.5h3M635 697.5h3M827 697.5h3M953 697.5h3M959 697.5h1M1080 697.5h2M1255 670.5h1M1248 676.5h1M377 711.5h3M396 711.5h2M401 711.5h3M407 711.5h1M1128 686.5h2M1164 686.5h2M1224 686.5h2M1242 680.5h2M1254 671.5h1M1265 658.5h1M1241 681.5h1M1261 664.5h1M1264 660.5h1M1236 683.5h2M1259 666.5h1M1247 677.5h1M1269 654.5h1" fill="none" stroke="#ff0000" stroke-width="1" shape-rendering="crispEdges"/>
<text transform="translate(8.81,639) scale(0.9599,1)" font-size="10" fill="#000" stroke="#000" stroke-width="0.12">MACD(12,26,9)</text>
<text transform="translate(78.04,639) scale(0.9096,1)" font-size="10" fill="#000" stroke="#000" stroke-width="0.12">0.028975</text>
<text transform="translate(119.04,639) scale(0.9149,1)" font-size="10" fill="#000" stroke="#000" stroke-width="0.12">0.019243</text>
<text transform="translate(1600.94,636.9) scale(0.9150,1)" font-size="10" fill="#000" stroke="#000" stroke-width="0.12">0.030838</text>
<text transform="translate(1600.64,698.9) scale(0.9150,1)" font-size="10" fill="#000" stroke="#000" stroke-width="0.12">0.00</text>
<text transform="translate(1600.79,715.0) scale(0.9150,1)" font-size="10" fill="#000" stroke="#000" stroke-width="0.12">-0.010144</text>
<g shape-rendering="crispEdges" fill="#000">
<rect x="5" y="719" width="1" height="3"/>
<rect x="69" y="719" width="1" height="3"/>
<rect x="133" y="719" width="1" height="3"/>
<rect x="197" y="719" width="1" height="3"/>
<rect x="261" y="719" width="1" height="3"/>
<rect x="325" y="719" width="1" height="3"/>
<rect x="389" y="719" width="1" height="3"/>
<rect x="453" y="719" width="1" height="3"/>
<rect x="517" y="719" width="1" height="3"/>
<rect x="581" y="719" width="1" height="3"/>
<rect x="645" y="719" width="1" height="3"/>
<rect x="709" y="719" width="1" height="3"/>
<rect x="773" y="719" width="1" height="3"/>
<rect x="837" y="719" width="1" height="3"/>
<rect x="901" y="719" width="1" height="3"/>
<rect x="965" y="719" width="1" height="3"/>
<rect x="1029" y="719" width="1" height="3"/>
<rect x="1093" y="719" width="1" height="3"/>
<rect x="1157" y="719" width="1" height="3"/>
<rect x="1221" y="719" width="1" height="3"/>
</g>
<text transform="translate(4.10,730.8) scale(0.9250,1)" font-size="10" fill="#000" stroke="#000" stroke-width="0.12">18 Mar 2019</text>
<text transform="translate(68.43,730.8) scale(0.9250,1)" font-size="10" fill="#000" stroke="#000" stroke-width="0.12">5 Apr 2019</text>
<text transform="translate(132.33,730.8) scale(0.9250,1)" font-size="10" fill="#000" stroke="#000" stroke-width="0.12">24 Apr 2019</text>
<text transform="translate(196.10,730.8) scale(0.9250,1)" font-size="10" fill="#000" stroke="#000" stroke-width="0.12">13 May 2019</text>
<text transform="translate(260.45,730.8) scale(0.9250,1)" font-size="10" fill="#000" stroke="#000" stroke-width="0.12">31 May 2019</text>
<text transform="translate(324.10,730.8) scale(0.9250,1)" font-size="10" fill="#000" stroke="#000" stroke-width="0.12">19 Jun 2019</text>
<text transform="translate(388.40,730.8) scale(0.9250,1)" font-size="10" fill="#000" stroke="#000" stroke-width="0.12">8 Jul 2019</text>
<text transform="translate(452.33,730.8) scale(0.9250,1)" font-size="10" fill="#000" stroke="#000" stroke-width="0.12">26 Jul 2019</text>
<text transform="translate(516.10,730.8) scale(0.9250,1)" font-size="10" fill="#000" stroke="#000" stroke-width="0.12">14 Aug 2019</text>
<text transform="translate(580.33,730.8) scale(0.9250,1)" font-size="10" fill="#000" stroke="#000" stroke-width="0.12">2 Sep 2019</text>
<text transform="translate(644.33,730.8) scale(0.9250,1)" font-size="10" fill="#000" stroke="#000" stroke-width="0.12">20 Sep 2019</text>
<text transform="translate(708.37,730.8) scale(0.9250,1)" font-size="10" fill="#000" stroke="#000" stroke-width="0.12">9 Oct 2019</text>
<text transform="translate(772.33,730.8) scale(0.9250,1)" font-size="10" fill="#000" stroke="#000" stroke-width="0.12">28 Oct 2019</text>
<text transform="translate(836.10,730.8) scale(0.9250,1)" font-size="10" fill="#000" stroke="#000" stroke-width="0.12">15 Nov 2019</text>
<text transform="translate(900.59,730.8) scale(0.9250,1)" font-size="10" fill="#000" stroke="#000" stroke-width="0.12">4 Dec 2019</text>
<text transform="translate(964.33,730.8) scale(0.9250,1)" font-size="10" fill="#000" stroke="#000" stroke-width="0.12">23 Dec 2019</text>
<text transform="translate(1028.10,730.8) scale(0.9250,1)" font-size="10" fill="#000" stroke="#000" stroke-width="0.12">10 Jan 2020</text>
<text transform="translate(1092.33,730.8) scale(0.9250,1)" font-size="10" fill="#000" stroke="#000" stroke-width="0.12">29 Jan 2020</text>
<text transform="translate(1156.10,730.8) scale(0.9250,1)" font-size="10" fill="#000" stroke="#000" stroke-width="0.12">17 Feb 2020</text>
<text transform="translate(1220.33,730.8) scale(0.9250,1)" font-size="10" fill="#000" stroke="#000" stroke-width="0.12">6 Mar 2020</text>
<g shape-rendering="crispEdges">
<rect x="0" y="739" width="1640" height="1" fill="#e3e3e3"/>
<rect x="0" y="740" width="1640" height="1" fill="#fff"/>
<rect x="0" y="741" width="1640" height="1" fill="#000"/>
<rect x="0" y="742" width="1640" height="20" fill="#f0f0f0"/>
<rect x="0" y="762" width="1640" height="2" fill="#fff"/>
<rect x="0" y="764" width="1640" height="2" fill="#a0a0a0"/>
<rect x="0" y="741" width="1" height="21" fill="#a8a8a8"/><rect x="1" y="741" width="1" height="21" fill="#707070"/>
<rect x="315" y="740" width="102" height="19" fill="#fff"/>
<rect x="314" y="741" width="1" height="19" fill="#000"/><rect x="417" y="741" width="1" height="19" fill="#000"/><rect x="314" y="759" width="104" height="1" fill="#000"/>
<rect x="418" y="742" width="1" height="19" fill="#a0a0a0"/><rect x="315" y="760" width="104" height="1" fill="#a0a0a0"/>
<rect x="110" y="745" width="1" height="13" fill="#5a5a5a"/>
<rect x="210" y="745" width="1" height="13" fill="#5a5a5a"/>
<rect x="522" y="745" width="1" height="13" fill="#5a5a5a"/>
<rect x="626" y="745" width="1" height="13" fill="#5a5a5a"/>
<rect x="731" y="745" width="1" height="13" fill="#5a5a5a"/>
<rect x="826" y="745" width="1" height="13" fill="#5a5a5a"/>
<rect x="898" y="745" width="1" height="13" fill="#5a5a5a"/>
<rect x="978" y="745" width="1" height="13" fill="#5a5a5a"/>
<rect x="1058" y="745" width="1" height="13" fill="#5a5a5a"/>
<rect x="1138" y="745" width="1" height="13" fill="#5a5a5a"/>
<rect x="1214" y="745" width="1" height="13" fill="#5a5a5a"/>
<rect x="1290" y="745" width="1" height="13" fill="#5a5a5a"/>
</g>
<text transform="translate(18.03,755.8) scale(0.9310,1)" font-size="12.7" fill="#6a6a6a" stroke="#6a6a6a" stroke-width="0.12">EURUSD,Daily</text>
<text transform="translate(119.57,755.8) scale(0.9450,1)" font-size="12.7" fill="#6a6a6a" stroke="#6a6a6a" stroke-width="0.12">USDCHF,Daily</text>
<text transform="translate(221.48,755.8) scale(0.9450,1)" font-size="12.7" fill="#6a6a6a" stroke="#6a6a6a" stroke-width="0.12">AUDUSD,Daily</text>
<text transform="translate(427.55,755.8) scale(0.9709,1)" font-size="12.7" fill="#6a6a6a" stroke="#6a6a6a" stroke-width="0.12">USDCNH,Daily</text>
<text transform="translate(533.51,755.8) scale(0.9464,1)" font-size="12.7" fill="#6a6a6a" stroke="#6a6a6a" stroke-width="0.12">EURUSD,Daily</text>
<text transform="translate(637.80,755.8) scale(0.9407,1)" font-size="12.7" fill="#6a6a6a" stroke="#6a6a6a" stroke-width="0.12">GBPUSD,Daily</text>
<text transform="translate(741.92,755.8) scale(0.9716,1)" font-size="12.7" fill="#6a6a6a" stroke="#6a6a6a" stroke-width="0.12">XAUUSD,M5</text>
<text transform="translate(837.09,755.8) scale(0.9685,1)" font-size="12.7" fill="#6a6a6a" stroke="#6a6a6a" stroke-width="0.12">HK50,H1</text>
<text transform="translate(908.85,755.8) scale(0.9720,1)" font-size="12.7" fill="#6a6a6a" stroke="#6a6a6a" stroke-width="0.12">UK100,H1</text>
<text transform="translate(988.75,755.8) scale(0.9720,1)" font-size="12.7" fill="#6a6a6a" stroke="#6a6a6a" stroke-width="0.12">UK100,H1</text>
<text transform="translate(1069.31,755.8) scale(0.9160,1)" font-size="12.7" fill="#6a6a6a" stroke="#6a6a6a" stroke-width="0.12">GER30,H1</text>
<text transform="translate(1147.95,755.8) scale(0.9162,1)" font-size="12.7" fill="#6a6a6a" stroke="#6a6a6a" stroke-width="0.12">FRA40,H1</text>
<text transform="translate(1224.94,755.8) scale(0.9807,1)" font-size="12.7" fill="#6a6a6a" stroke="#6a6a6a" stroke-width="0.12">USOil,M5</text>
<text transform="translate(324.67,755.8) scale(0.9481,1)" font-size="12.7" fill="#000" stroke="#000" stroke-width="0.12">USDCAD,Daily</text>
<path d="M1616.5 746.4 L1616.5 753.6 L1612.3 750 Z" fill="#9a9a9a"/><path d="M1631.7 746.4 L1631.7 753.6 L1635.9 750 Z" fill="#9a9a9a"/>
</svg></body></html>
